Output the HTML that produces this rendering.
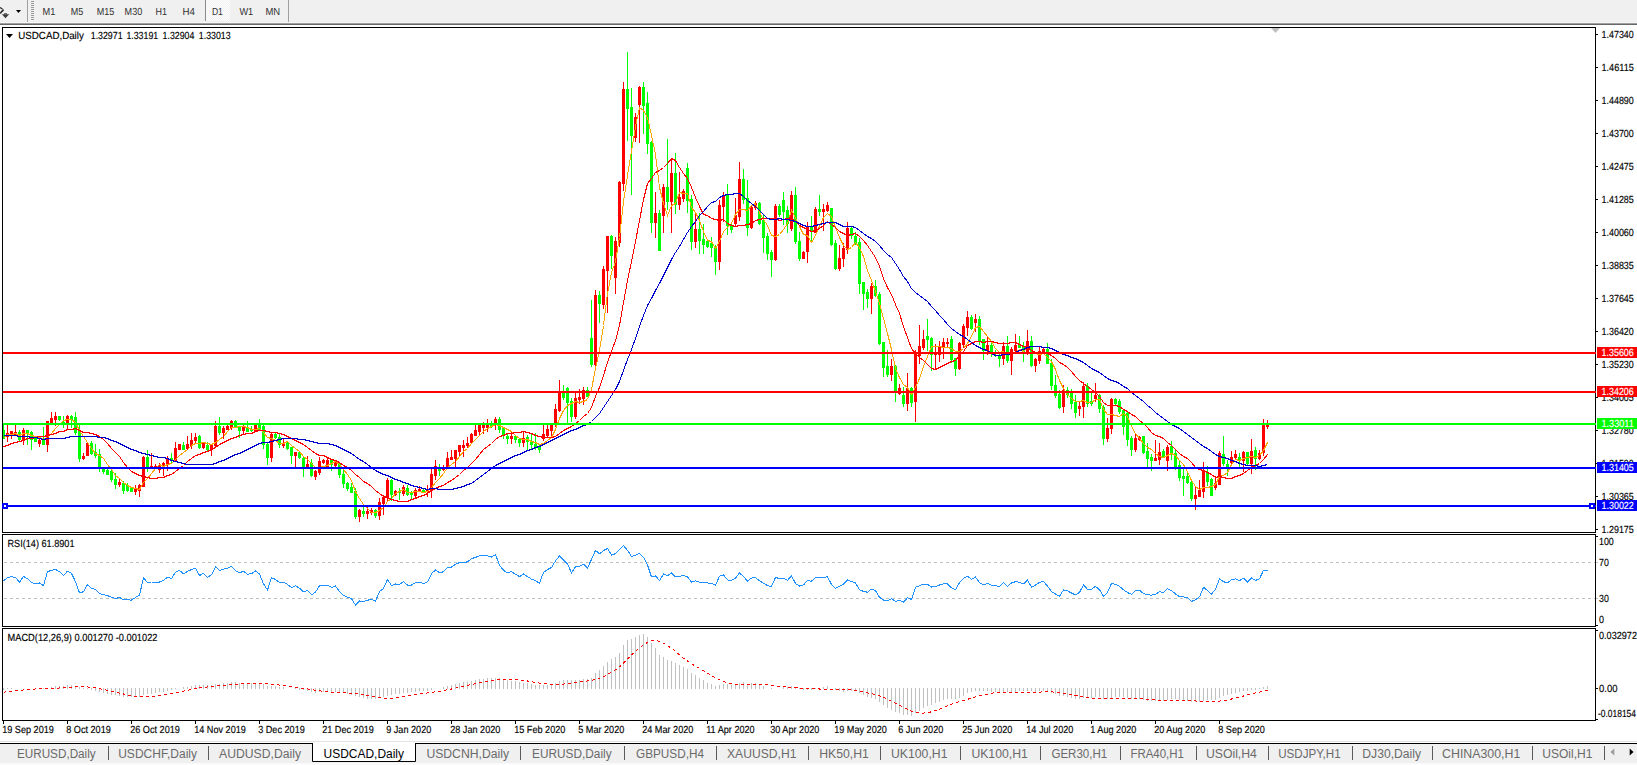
<!DOCTYPE html><html><head><meta charset="utf-8"><style>html,body{margin:0;padding:0;width:1637px;height:765px;overflow:hidden;background:#fff;font-family:"Liberation Sans",sans-serif}</style></head><body><svg width="1637" height="765" viewBox="0 0 1637 765" style="position:absolute;left:0;top:0"><rect x="0" y="0" width="1637" height="23" fill="#f0f0f0"/><rect x="0" y="22" width="1637" height="1" fill="#f7f7f7"/><rect x="0" y="23" width="1637" height="1" fill="#a0a0a0"/><rect x="0" y="24" width="1637" height="1" fill="#696969"/><rect x="27" y="0" width="1" height="22" fill="#a0a0a0"/><rect x="31" y="1" width="3" height="1" fill="#9a9a9a"/><rect x="31" y="3" width="3" height="1" fill="#9a9a9a"/><rect x="31" y="5" width="3" height="1" fill="#9a9a9a"/><rect x="31" y="7" width="3" height="1" fill="#9a9a9a"/><rect x="31" y="9" width="3" height="1" fill="#9a9a9a"/><rect x="31" y="11" width="3" height="1" fill="#9a9a9a"/><rect x="31" y="13" width="3" height="1" fill="#9a9a9a"/><rect x="31" y="15" width="3" height="1" fill="#9a9a9a"/><rect x="31" y="17" width="3" height="1" fill="#9a9a9a"/><rect x="31" y="19" width="3" height="1" fill="#9a9a9a"/><defs><pattern id="dith" x="0" y="0" width="2" height="2" patternUnits="userSpaceOnUse"><rect width="2" height="2" fill="#f0f0f0"/><rect width="1" height="1" fill="#fff"/><rect x="1" y="1" width="1" height="1" fill="#fff"/></pattern></defs><rect x="206" y="0" width="24" height="21" fill="url(#dith)" shape-rendering="crispEdges"/><rect x="205" y="0" width="1" height="21" fill="#8a8a8a"/><rect x="288" y="0" width="1" height="22" fill="#a0a0a0"/><path d="M0 7.5 L2.5 9" stroke="#2a2a2a" stroke-width="1.4" fill="none"/><path d="M3.6 9.6 L0 13.5" stroke="#2a2a2a" stroke-width="1.6" fill="none"/><path d="M1.8 14.2 L9.2 14.2 L5.5 18.2 Z" fill="#3c3c3c"/><rect x="4" y="13.3" width="3" height="1" fill="#3c3c3c"/><path d="M16 10 L21 10 L18.5 13 Z" fill="#000"/><text x="42.5" y="15" font-family="Liberation Sans, sans-serif" font-size="10.3" fill="#303030" stroke="#303030" stroke-width="0" text-rendering="geometricPrecision" textLength="12.8" lengthAdjust="spacingAndGlyphs" >M1</text><text x="70.7" y="15" font-family="Liberation Sans, sans-serif" font-size="10.3" fill="#303030" stroke="#303030" stroke-width="0" text-rendering="geometricPrecision" textLength="12.5" lengthAdjust="spacingAndGlyphs" >M5</text><text x="96.7" y="15" font-family="Liberation Sans, sans-serif" font-size="10.3" fill="#303030" stroke="#303030" stroke-width="0" text-rendering="geometricPrecision" textLength="17.5" lengthAdjust="spacingAndGlyphs" >M15</text><text x="124.6" y="15" font-family="Liberation Sans, sans-serif" font-size="10.3" fill="#303030" stroke="#303030" stroke-width="0" text-rendering="geometricPrecision" textLength="17.6" lengthAdjust="spacingAndGlyphs" >M30</text><text x="155.5" y="15" font-family="Liberation Sans, sans-serif" font-size="10.3" fill="#303030" stroke="#303030" stroke-width="0" text-rendering="geometricPrecision" textLength="11.5" lengthAdjust="spacingAndGlyphs" >H1</text><text x="182.6" y="15" font-family="Liberation Sans, sans-serif" font-size="10.3" fill="#303030" stroke="#303030" stroke-width="0" text-rendering="geometricPrecision" textLength="12.4" lengthAdjust="spacingAndGlyphs" >H4</text><text x="211.9" y="15" font-family="Liberation Sans, sans-serif" font-size="10.3" fill="#303030" stroke="#303030" stroke-width="0" text-rendering="geometricPrecision" textLength="11.0" lengthAdjust="spacingAndGlyphs" >D1</text><text x="239.4" y="15" font-family="Liberation Sans, sans-serif" font-size="10.3" fill="#303030" stroke="#303030" stroke-width="0" text-rendering="geometricPrecision" textLength="13.8" lengthAdjust="spacingAndGlyphs" >W1</text><text x="265.5" y="15" font-family="Liberation Sans, sans-serif" font-size="10.3" fill="#303030" stroke="#303030" stroke-width="0" text-rendering="geometricPrecision" textLength="14.7" lengthAdjust="spacingAndGlyphs" >MN</text><rect x="2.5" y="27.5" width="1593" height="505" fill="#fff" stroke="#000" stroke-width="1" shape-rendering="crispEdges"/><rect x="2.5" y="534.5" width="1593" height="92" fill="#fff" stroke="#000" stroke-width="1" shape-rendering="crispEdges"/><rect x="2.5" y="628.5" width="1593" height="92" fill="#fff" stroke="#000" stroke-width="1" shape-rendering="crispEdges"/><defs><clipPath id="cm"><rect x="3" y="28" width="1592" height="504"/></clipPath><clipPath id="cr"><rect x="3" y="535" width="1592" height="91"/></clipPath><clipPath id="cd"><rect x="3" y="629" width="1592" height="91"/></clipPath></defs><g clip-path="url(#cm)" shape-rendering="crispEdges"><rect x="3" y="425" width="1" height="14" fill="#00ff00"/><rect x="2" y="430" width="3" height="9" fill="#00ff00"/><rect x="7" y="425" width="1" height="17" fill="#ff0000"/><rect x="6" y="433" width="3" height="4" fill="#ff0000"/><rect x="11" y="431" width="1" height="8" fill="#ff0000"/><rect x="10" y="431" width="3" height="3" fill="#ff0000"/><rect x="15" y="425" width="1" height="11" fill="#ff0000"/><rect x="14" y="432" width="3" height="3" fill="#ff0000"/><rect x="19" y="430" width="1" height="12" fill="#00ff00"/><rect x="18" y="432" width="3" height="8" fill="#00ff00"/><rect x="23" y="428" width="1" height="17" fill="#ff0000"/><rect x="22" y="430" width="3" height="10" fill="#ff0000"/><rect x="27" y="430" width="1" height="15" fill="#00ff00"/><rect x="26" y="430" width="3" height="4" fill="#00ff00"/><rect x="31" y="431" width="1" height="19" fill="#00ff00"/><rect x="30" y="432" width="3" height="8" fill="#00ff00"/><rect x="35" y="436" width="1" height="6" fill="#00ff00"/><rect x="34" y="438" width="3" height="4" fill="#00ff00"/><rect x="39" y="438" width="1" height="9" fill="#ff0000"/><rect x="38" y="440" width="3" height="4" fill="#ff0000"/><rect x="43" y="427" width="1" height="18" fill="#00ff00"/><rect x="42" y="440" width="3" height="5" fill="#00ff00"/><rect x="47" y="421" width="1" height="31" fill="#ff0000"/><rect x="46" y="421" width="3" height="24" fill="#ff0000"/><rect x="51" y="412" width="1" height="11" fill="#ff0000"/><rect x="50" y="418" width="3" height="5" fill="#ff0000"/><rect x="55" y="412" width="1" height="14" fill="#ff0000"/><rect x="54" y="416" width="3" height="4" fill="#ff0000"/><rect x="59" y="416" width="1" height="5" fill="#00ff00"/><rect x="58" y="416" width="3" height="4" fill="#00ff00"/><rect x="63" y="416" width="1" height="12" fill="#00ff00"/><rect x="62" y="422" width="3" height="3" fill="#00ff00"/><rect x="67" y="415" width="1" height="15" fill="#ff0000"/><rect x="66" y="416" width="3" height="8" fill="#ff0000"/><rect x="71" y="415" width="1" height="13" fill="#00ff00"/><rect x="70" y="416" width="3" height="4" fill="#00ff00"/><rect x="75" y="412" width="1" height="23" fill="#00ff00"/><rect x="74" y="417" width="3" height="16" fill="#00ff00"/><rect x="79" y="425" width="1" height="37" fill="#00ff00"/><rect x="78" y="430" width="3" height="29" fill="#00ff00"/><rect x="83" y="453" width="1" height="7" fill="#ff0000"/><rect x="82" y="456" width="3" height="3" fill="#ff0000"/><rect x="87" y="443" width="1" height="13" fill="#ff0000"/><rect x="86" y="443" width="3" height="13" fill="#ff0000"/><rect x="91" y="441" width="1" height="14" fill="#00ff00"/><rect x="90" y="443" width="3" height="11" fill="#00ff00"/><rect x="95" y="444" width="1" height="14" fill="#00ff00"/><rect x="94" y="452" width="3" height="4" fill="#00ff00"/><rect x="99" y="449" width="1" height="23" fill="#00ff00"/><rect x="98" y="454" width="3" height="15" fill="#00ff00"/><rect x="103" y="468" width="1" height="6" fill="#00ff00"/><rect x="102" y="468" width="3" height="4" fill="#00ff00"/><rect x="107" y="469" width="1" height="6" fill="#00ff00"/><rect x="106" y="470" width="3" height="5" fill="#00ff00"/><rect x="111" y="470" width="1" height="12" fill="#00ff00"/><rect x="110" y="471" width="3" height="9" fill="#00ff00"/><rect x="115" y="473" width="1" height="16" fill="#00ff00"/><rect x="114" y="479" width="3" height="6" fill="#00ff00"/><rect x="119" y="478" width="1" height="9" fill="#ff0000"/><rect x="118" y="482" width="3" height="3" fill="#ff0000"/><rect x="123" y="481" width="1" height="13" fill="#00ff00"/><rect x="122" y="483" width="3" height="8" fill="#00ff00"/><rect x="127" y="483" width="1" height="9" fill="#00ff00"/><rect x="126" y="485" width="3" height="6" fill="#00ff00"/><rect x="131" y="487" width="1" height="5" fill="#00ff00"/><rect x="130" y="488" width="3" height="4" fill="#00ff00"/><rect x="135" y="485" width="1" height="10" fill="#ff0000"/><rect x="134" y="488" width="3" height="4" fill="#ff0000"/><rect x="139" y="484" width="1" height="13" fill="#ff0000"/><rect x="138" y="485" width="3" height="6" fill="#ff0000"/><rect x="143" y="456" width="1" height="31" fill="#ff0000"/><rect x="142" y="457" width="3" height="30" fill="#ff0000"/><rect x="147" y="450" width="1" height="22" fill="#00ff00"/><rect x="146" y="457" width="3" height="11" fill="#00ff00"/><rect x="151" y="453" width="1" height="16" fill="#ff0000"/><rect x="150" y="466" width="3" height="3" fill="#ff0000"/><rect x="155" y="464" width="1" height="5" fill="#ff0000"/><rect x="154" y="466" width="3" height="3" fill="#ff0000"/><rect x="159" y="463" width="1" height="10" fill="#ff0000"/><rect x="158" y="466" width="3" height="4" fill="#ff0000"/><rect x="163" y="462" width="1" height="14" fill="#ff0000"/><rect x="162" y="463" width="3" height="5" fill="#ff0000"/><rect x="167" y="456" width="1" height="15" fill="#ff0000"/><rect x="166" y="458" width="3" height="7" fill="#ff0000"/><rect x="171" y="453" width="1" height="10" fill="#00ff00"/><rect x="170" y="458" width="3" height="3" fill="#00ff00"/><rect x="175" y="442" width="1" height="20" fill="#ff0000"/><rect x="174" y="448" width="3" height="13" fill="#ff0000"/><rect x="179" y="444" width="1" height="6" fill="#ff0000"/><rect x="178" y="444" width="3" height="6" fill="#ff0000"/><rect x="183" y="442" width="1" height="8" fill="#00ff00"/><rect x="182" y="445" width="3" height="5" fill="#00ff00"/><rect x="187" y="436" width="1" height="14" fill="#ff0000"/><rect x="186" y="444" width="3" height="5" fill="#ff0000"/><rect x="191" y="433" width="1" height="16" fill="#ff0000"/><rect x="190" y="440" width="3" height="6" fill="#ff0000"/><rect x="195" y="433" width="1" height="11" fill="#ff0000"/><rect x="194" y="437" width="3" height="4" fill="#ff0000"/><rect x="199" y="435" width="1" height="14" fill="#00ff00"/><rect x="198" y="436" width="3" height="12" fill="#00ff00"/><rect x="203" y="442" width="1" height="7" fill="#ff0000"/><rect x="202" y="443" width="3" height="5" fill="#ff0000"/><rect x="207" y="442" width="1" height="9" fill="#00ff00"/><rect x="206" y="445" width="3" height="5" fill="#00ff00"/><rect x="211" y="444" width="1" height="12" fill="#ff0000"/><rect x="210" y="444" width="3" height="6" fill="#ff0000"/><rect x="215" y="421" width="1" height="27" fill="#ff0000"/><rect x="214" y="426" width="3" height="20" fill="#ff0000"/><rect x="219" y="417" width="1" height="18" fill="#00ff00"/><rect x="218" y="426" width="3" height="7" fill="#00ff00"/><rect x="223" y="426" width="1" height="13" fill="#ff0000"/><rect x="222" y="428" width="3" height="5" fill="#ff0000"/><rect x="227" y="425" width="1" height="5" fill="#ff0000"/><rect x="226" y="426" width="3" height="4" fill="#ff0000"/><rect x="231" y="420" width="1" height="10" fill="#ff0000"/><rect x="230" y="421" width="3" height="7" fill="#ff0000"/><rect x="235" y="420" width="1" height="8" fill="#00ff00"/><rect x="234" y="421" width="3" height="7" fill="#00ff00"/><rect x="239" y="426" width="1" height="12" fill="#00ff00"/><rect x="238" y="427" width="3" height="4" fill="#00ff00"/><rect x="243" y="425" width="1" height="9" fill="#ff0000"/><rect x="242" y="427" width="3" height="4" fill="#ff0000"/><rect x="247" y="421" width="1" height="11" fill="#00ff00"/><rect x="246" y="427" width="3" height="5" fill="#00ff00"/><rect x="251" y="426" width="1" height="6" fill="#00ff00"/><rect x="250" y="429" width="3" height="2" fill="#00ff00"/><rect x="255" y="425" width="1" height="7" fill="#ff0000"/><rect x="254" y="425" width="3" height="7" fill="#ff0000"/><rect x="259" y="419" width="1" height="11" fill="#00ff00"/><rect x="258" y="425" width="3" height="5" fill="#00ff00"/><rect x="263" y="425" width="1" height="24" fill="#00ff00"/><rect x="262" y="426" width="3" height="19" fill="#00ff00"/><rect x="267" y="442" width="1" height="23" fill="#00ff00"/><rect x="266" y="444" width="3" height="14" fill="#00ff00"/><rect x="271" y="433" width="1" height="29" fill="#ff0000"/><rect x="270" y="434" width="3" height="24" fill="#ff0000"/><rect x="275" y="433" width="1" height="6" fill="#00ff00"/><rect x="274" y="434" width="3" height="4" fill="#00ff00"/><rect x="279" y="434" width="1" height="14" fill="#00ff00"/><rect x="278" y="437" width="3" height="8" fill="#00ff00"/><rect x="283" y="439" width="1" height="9" fill="#ff0000"/><rect x="282" y="443" width="3" height="3" fill="#ff0000"/><rect x="287" y="441" width="1" height="9" fill="#00ff00"/><rect x="286" y="442" width="3" height="7" fill="#00ff00"/><rect x="291" y="447" width="1" height="17" fill="#00ff00"/><rect x="290" y="447" width="3" height="9" fill="#00ff00"/><rect x="295" y="452" width="1" height="15" fill="#ff0000"/><rect x="294" y="452" width="3" height="4" fill="#ff0000"/><rect x="299" y="452" width="1" height="7" fill="#00ff00"/><rect x="298" y="452" width="3" height="6" fill="#00ff00"/><rect x="303" y="456" width="1" height="21" fill="#00ff00"/><rect x="302" y="458" width="3" height="9" fill="#00ff00"/><rect x="307" y="456" width="1" height="12" fill="#ff0000"/><rect x="306" y="464" width="3" height="3" fill="#ff0000"/><rect x="311" y="459" width="1" height="18" fill="#00ff00"/><rect x="310" y="463" width="3" height="13" fill="#00ff00"/><rect x="315" y="470" width="1" height="10" fill="#ff0000"/><rect x="314" y="471" width="3" height="6" fill="#ff0000"/><rect x="319" y="457" width="1" height="18" fill="#ff0000"/><rect x="318" y="461" width="3" height="12" fill="#ff0000"/><rect x="323" y="459" width="1" height="5" fill="#ff0000"/><rect x="322" y="460" width="3" height="3" fill="#ff0000"/><rect x="327" y="458" width="1" height="10" fill="#ff0000"/><rect x="326" y="460" width="3" height="7" fill="#ff0000"/><rect x="331" y="459" width="1" height="12" fill="#00ff00"/><rect x="330" y="460" width="3" height="5" fill="#00ff00"/><rect x="335" y="461" width="1" height="6" fill="#ff0000"/><rect x="334" y="462" width="3" height="4" fill="#ff0000"/><rect x="339" y="463" width="1" height="15" fill="#00ff00"/><rect x="338" y="464" width="3" height="11" fill="#00ff00"/><rect x="343" y="470" width="1" height="18" fill="#00ff00"/><rect x="342" y="474" width="3" height="10" fill="#00ff00"/><rect x="347" y="482" width="1" height="9" fill="#00ff00"/><rect x="346" y="483" width="3" height="6" fill="#00ff00"/><rect x="351" y="483" width="1" height="10" fill="#00ff00"/><rect x="350" y="487" width="3" height="6" fill="#00ff00"/><rect x="355" y="488" width="1" height="31" fill="#00ff00"/><rect x="354" y="491" width="3" height="26" fill="#00ff00"/><rect x="359" y="509" width="1" height="13" fill="#ff0000"/><rect x="358" y="510" width="3" height="7" fill="#ff0000"/><rect x="363" y="504" width="1" height="13" fill="#00ff00"/><rect x="362" y="511" width="3" height="3" fill="#00ff00"/><rect x="367" y="507" width="1" height="12" fill="#ff0000"/><rect x="366" y="511" width="3" height="3" fill="#ff0000"/><rect x="371" y="508" width="1" height="7" fill="#ff0000"/><rect x="370" y="510" width="3" height="3" fill="#ff0000"/><rect x="375" y="509" width="1" height="9" fill="#00ff00"/><rect x="374" y="510" width="3" height="6" fill="#00ff00"/><rect x="379" y="498" width="1" height="22" fill="#ff0000"/><rect x="378" y="502" width="3" height="14" fill="#ff0000"/><rect x="383" y="495" width="1" height="20" fill="#ff0000"/><rect x="382" y="497" width="3" height="7" fill="#ff0000"/><rect x="387" y="478" width="1" height="24" fill="#ff0000"/><rect x="386" y="480" width="3" height="18" fill="#ff0000"/><rect x="391" y="479" width="1" height="22" fill="#00ff00"/><rect x="390" y="480" width="3" height="15" fill="#00ff00"/><rect x="395" y="490" width="1" height="6" fill="#ff0000"/><rect x="394" y="491" width="3" height="4" fill="#ff0000"/><rect x="399" y="488" width="1" height="12" fill="#00ff00"/><rect x="398" y="491" width="3" height="2" fill="#00ff00"/><rect x="403" y="485" width="1" height="11" fill="#ff0000"/><rect x="402" y="487" width="3" height="7" fill="#ff0000"/><rect x="407" y="485" width="1" height="11" fill="#00ff00"/><rect x="406" y="488" width="3" height="7" fill="#00ff00"/><rect x="411" y="491" width="1" height="9" fill="#00ff00"/><rect x="410" y="493" width="3" height="2" fill="#00ff00"/><rect x="415" y="488" width="1" height="10" fill="#ff0000"/><rect x="414" y="490" width="3" height="6" fill="#ff0000"/><rect x="419" y="486" width="1" height="6" fill="#ff0000"/><rect x="418" y="489" width="3" height="3" fill="#ff0000"/><rect x="423" y="488" width="1" height="5" fill="#00ff00"/><rect x="422" y="490" width="3" height="3" fill="#00ff00"/><rect x="427" y="485" width="1" height="12" fill="#ff0000"/><rect x="426" y="489" width="3" height="3" fill="#ff0000"/><rect x="431" y="469" width="1" height="29" fill="#ff0000"/><rect x="430" y="474" width="3" height="17" fill="#ff0000"/><rect x="435" y="460" width="1" height="20" fill="#ff0000"/><rect x="434" y="466" width="3" height="10" fill="#ff0000"/><rect x="439" y="464" width="1" height="12" fill="#00ff00"/><rect x="438" y="468" width="3" height="3" fill="#00ff00"/><rect x="443" y="465" width="1" height="6" fill="#ff0000"/><rect x="442" y="468" width="3" height="2" fill="#ff0000"/><rect x="447" y="452" width="1" height="17" fill="#ff0000"/><rect x="446" y="458" width="3" height="10" fill="#ff0000"/><rect x="451" y="450" width="1" height="10" fill="#ff0000"/><rect x="450" y="457" width="3" height="3" fill="#ff0000"/><rect x="455" y="450" width="1" height="17" fill="#ff0000"/><rect x="454" y="450" width="3" height="9" fill="#ff0000"/><rect x="459" y="445" width="1" height="11" fill="#ff0000"/><rect x="458" y="445" width="3" height="7" fill="#ff0000"/><rect x="463" y="440" width="1" height="17" fill="#ff0000"/><rect x="462" y="445" width="3" height="3" fill="#ff0000"/><rect x="467" y="437" width="1" height="11" fill="#ff0000"/><rect x="466" y="443" width="3" height="3" fill="#ff0000"/><rect x="471" y="433" width="1" height="10" fill="#ff0000"/><rect x="470" y="434" width="3" height="9" fill="#ff0000"/><rect x="475" y="425" width="1" height="11" fill="#ff0000"/><rect x="474" y="430" width="3" height="6" fill="#ff0000"/><rect x="479" y="425" width="1" height="11" fill="#ff0000"/><rect x="478" y="425" width="3" height="7" fill="#ff0000"/><rect x="483" y="422" width="1" height="12" fill="#ff0000"/><rect x="482" y="425" width="3" height="3" fill="#ff0000"/><rect x="487" y="419" width="1" height="13" fill="#ff0000"/><rect x="486" y="425" width="3" height="3" fill="#ff0000"/><rect x="491" y="421" width="1" height="7" fill="#00ff00"/><rect x="490" y="424" width="3" height="3" fill="#00ff00"/><rect x="495" y="417" width="1" height="13" fill="#ff0000"/><rect x="494" y="419" width="3" height="5" fill="#ff0000"/><rect x="499" y="417" width="1" height="16" fill="#00ff00"/><rect x="498" y="419" width="3" height="11" fill="#00ff00"/><rect x="503" y="428" width="1" height="11" fill="#00ff00"/><rect x="502" y="428" width="3" height="8" fill="#00ff00"/><rect x="507" y="434" width="1" height="10" fill="#00ff00"/><rect x="506" y="436" width="3" height="3" fill="#00ff00"/><rect x="511" y="432" width="1" height="12" fill="#ff0000"/><rect x="510" y="436" width="3" height="3" fill="#ff0000"/><rect x="515" y="436" width="1" height="7" fill="#00ff00"/><rect x="514" y="436" width="3" height="4" fill="#00ff00"/><rect x="519" y="438" width="1" height="9" fill="#00ff00"/><rect x="518" y="439" width="3" height="4" fill="#00ff00"/><rect x="523" y="431" width="1" height="16" fill="#ff0000"/><rect x="522" y="438" width="3" height="5" fill="#ff0000"/><rect x="527" y="435" width="1" height="15" fill="#00ff00"/><rect x="526" y="437" width="3" height="5" fill="#00ff00"/><rect x="531" y="434" width="1" height="16" fill="#00ff00"/><rect x="530" y="441" width="3" height="4" fill="#00ff00"/><rect x="535" y="433" width="1" height="17" fill="#00ff00"/><rect x="534" y="444" width="3" height="3" fill="#00ff00"/><rect x="539" y="445" width="1" height="8" fill="#00ff00"/><rect x="538" y="446" width="3" height="4" fill="#00ff00"/><rect x="543" y="425" width="1" height="16" fill="#ff0000"/><rect x="542" y="434" width="3" height="5" fill="#ff0000"/><rect x="547" y="425" width="1" height="12" fill="#ff0000"/><rect x="546" y="429" width="3" height="7" fill="#ff0000"/><rect x="551" y="425" width="1" height="11" fill="#ff0000"/><rect x="550" y="425" width="3" height="6" fill="#ff0000"/><rect x="555" y="404" width="1" height="23" fill="#ff0000"/><rect x="554" y="409" width="3" height="15" fill="#ff0000"/><rect x="559" y="380" width="1" height="32" fill="#ff0000"/><rect x="558" y="392" width="3" height="19" fill="#ff0000"/><rect x="563" y="385" width="1" height="15" fill="#00ff00"/><rect x="562" y="392" width="3" height="6" fill="#00ff00"/><rect x="567" y="387" width="1" height="36" fill="#00ff00"/><rect x="566" y="388" width="3" height="15" fill="#00ff00"/><rect x="571" y="398" width="1" height="24" fill="#00ff00"/><rect x="570" y="401" width="3" height="16" fill="#00ff00"/><rect x="575" y="392" width="1" height="27" fill="#ff0000"/><rect x="574" y="398" width="3" height="19" fill="#ff0000"/><rect x="579" y="389" width="1" height="15" fill="#ff0000"/><rect x="578" y="397" width="3" height="3" fill="#ff0000"/><rect x="583" y="387" width="1" height="18" fill="#ff0000"/><rect x="582" y="390" width="3" height="9" fill="#ff0000"/><rect x="587" y="387" width="1" height="10" fill="#00ff00"/><rect x="586" y="390" width="3" height="7" fill="#00ff00"/><rect x="591" y="300" width="1" height="67" fill="#00ff00"/><rect x="590" y="338" width="3" height="27" fill="#00ff00"/><rect x="595" y="290" width="1" height="77" fill="#ff0000"/><rect x="594" y="295" width="3" height="70" fill="#ff0000"/><rect x="599" y="291" width="1" height="32" fill="#00ff00"/><rect x="598" y="295" width="3" height="9" fill="#00ff00"/><rect x="603" y="266" width="1" height="43" fill="#ff0000"/><rect x="602" y="269" width="3" height="36" fill="#ff0000"/><rect x="607" y="236" width="1" height="77" fill="#ff0000"/><rect x="606" y="236" width="3" height="35" fill="#ff0000"/><rect x="611" y="235" width="1" height="34" fill="#00ff00"/><rect x="610" y="236" width="3" height="20" fill="#00ff00"/><rect x="615" y="237" width="1" height="57" fill="#ff0000"/><rect x="614" y="241" width="3" height="37" fill="#ff0000"/><rect x="619" y="181" width="1" height="66" fill="#ff0000"/><rect x="618" y="182" width="3" height="61" fill="#ff0000"/><rect x="623" y="82" width="1" height="109" fill="#ff0000"/><rect x="622" y="89" width="3" height="95" fill="#ff0000"/><rect x="627" y="52" width="1" height="89" fill="#00ff00"/><rect x="626" y="89" width="3" height="20" fill="#00ff00"/><rect x="631" y="88" width="1" height="107" fill="#00ff00"/><rect x="630" y="107" width="3" height="29" fill="#00ff00"/><rect x="635" y="113" width="1" height="29" fill="#ff0000"/><rect x="634" y="117" width="3" height="21" fill="#ff0000"/><rect x="639" y="86" width="1" height="57" fill="#ff0000"/><rect x="638" y="87" width="3" height="18" fill="#ff0000"/><rect x="643" y="82" width="1" height="52" fill="#00ff00"/><rect x="642" y="87" width="3" height="19" fill="#00ff00"/><rect x="647" y="92" width="1" height="62" fill="#00ff00"/><rect x="646" y="103" width="3" height="41" fill="#00ff00"/><rect x="651" y="141" width="1" height="92" fill="#00ff00"/><rect x="650" y="142" width="3" height="81" fill="#00ff00"/><rect x="655" y="192" width="1" height="46" fill="#ff0000"/><rect x="654" y="213" width="3" height="10" fill="#ff0000"/><rect x="659" y="210" width="1" height="41" fill="#00ff00"/><rect x="658" y="213" width="3" height="38" fill="#00ff00"/><rect x="663" y="184" width="1" height="49" fill="#ff0000"/><rect x="662" y="187" width="3" height="29" fill="#ff0000"/><rect x="667" y="139" width="1" height="71" fill="#00ff00"/><rect x="666" y="187" width="3" height="15" fill="#00ff00"/><rect x="671" y="158" width="1" height="75" fill="#ff0000"/><rect x="670" y="173" width="3" height="29" fill="#ff0000"/><rect x="675" y="153" width="1" height="61" fill="#00ff00"/><rect x="674" y="173" width="3" height="32" fill="#00ff00"/><rect x="679" y="172" width="1" height="38" fill="#ff0000"/><rect x="678" y="197" width="3" height="8" fill="#ff0000"/><rect x="683" y="189" width="1" height="13" fill="#ff0000"/><rect x="682" y="191" width="3" height="8" fill="#ff0000"/><rect x="687" y="163" width="1" height="50" fill="#00ff00"/><rect x="686" y="168" width="3" height="33" fill="#00ff00"/><rect x="691" y="195" width="1" height="55" fill="#00ff00"/><rect x="690" y="199" width="3" height="43" fill="#00ff00"/><rect x="695" y="214" width="1" height="34" fill="#ff0000"/><rect x="694" y="229" width="3" height="13" fill="#ff0000"/><rect x="699" y="213" width="1" height="41" fill="#00ff00"/><rect x="698" y="229" width="3" height="12" fill="#00ff00"/><rect x="703" y="224" width="1" height="30" fill="#00ff00"/><rect x="702" y="239" width="3" height="6" fill="#00ff00"/><rect x="707" y="241" width="1" height="7" fill="#00ff00"/><rect x="706" y="241" width="3" height="6" fill="#00ff00"/><rect x="711" y="237" width="1" height="20" fill="#00ff00"/><rect x="710" y="243" width="3" height="5" fill="#00ff00"/><rect x="715" y="245" width="1" height="30" fill="#00ff00"/><rect x="714" y="247" width="3" height="15" fill="#00ff00"/><rect x="719" y="200" width="1" height="70" fill="#ff0000"/><rect x="718" y="205" width="3" height="57" fill="#ff0000"/><rect x="723" y="192" width="1" height="30" fill="#ff0000"/><rect x="722" y="195" width="3" height="12" fill="#ff0000"/><rect x="727" y="184" width="1" height="51" fill="#00ff00"/><rect x="726" y="194" width="3" height="32" fill="#00ff00"/><rect x="731" y="224" width="1" height="9" fill="#00ff00"/><rect x="730" y="225" width="3" height="5" fill="#00ff00"/><rect x="735" y="198" width="1" height="29" fill="#ff0000"/><rect x="734" y="215" width="3" height="9" fill="#ff0000"/><rect x="739" y="162" width="1" height="59" fill="#ff0000"/><rect x="738" y="179" width="3" height="38" fill="#ff0000"/><rect x="743" y="169" width="1" height="35" fill="#00ff00"/><rect x="742" y="179" width="3" height="21" fill="#00ff00"/><rect x="747" y="180" width="1" height="56" fill="#00ff00"/><rect x="746" y="198" width="3" height="30" fill="#00ff00"/><rect x="751" y="205" width="1" height="24" fill="#ff0000"/><rect x="750" y="207" width="3" height="21" fill="#ff0000"/><rect x="755" y="201" width="1" height="9" fill="#ff0000"/><rect x="754" y="203" width="3" height="5" fill="#ff0000"/><rect x="759" y="202" width="1" height="23" fill="#00ff00"/><rect x="758" y="203" width="3" height="21" fill="#00ff00"/><rect x="763" y="215" width="1" height="38" fill="#00ff00"/><rect x="762" y="220" width="3" height="18" fill="#00ff00"/><rect x="767" y="233" width="1" height="27" fill="#00ff00"/><rect x="766" y="236" width="3" height="18" fill="#00ff00"/><rect x="771" y="250" width="1" height="27" fill="#00ff00"/><rect x="770" y="252" width="3" height="8" fill="#00ff00"/><rect x="775" y="204" width="1" height="57" fill="#ff0000"/><rect x="774" y="206" width="3" height="54" fill="#ff0000"/><rect x="779" y="204" width="1" height="13" fill="#00ff00"/><rect x="778" y="206" width="3" height="9" fill="#00ff00"/><rect x="783" y="192" width="1" height="33" fill="#00ff00"/><rect x="782" y="200" width="3" height="12" fill="#00ff00"/><rect x="787" y="206" width="1" height="27" fill="#00ff00"/><rect x="786" y="210" width="3" height="14" fill="#00ff00"/><rect x="791" y="191" width="1" height="40" fill="#ff0000"/><rect x="790" y="195" width="3" height="34" fill="#ff0000"/><rect x="795" y="187" width="1" height="57" fill="#00ff00"/><rect x="794" y="195" width="3" height="47" fill="#00ff00"/><rect x="799" y="232" width="1" height="29" fill="#00ff00"/><rect x="798" y="241" width="3" height="18" fill="#00ff00"/><rect x="803" y="251" width="1" height="8" fill="#ff0000"/><rect x="802" y="252" width="3" height="7" fill="#ff0000"/><rect x="807" y="222" width="1" height="41" fill="#ff0000"/><rect x="806" y="227" width="3" height="25" fill="#ff0000"/><rect x="811" y="216" width="1" height="26" fill="#00ff00"/><rect x="810" y="227" width="3" height="5" fill="#00ff00"/><rect x="815" y="207" width="1" height="26" fill="#ff0000"/><rect x="814" y="209" width="3" height="24" fill="#ff0000"/><rect x="819" y="195" width="1" height="21" fill="#00ff00"/><rect x="818" y="209" width="3" height="3" fill="#00ff00"/><rect x="823" y="204" width="1" height="27" fill="#ff0000"/><rect x="822" y="209" width="3" height="3" fill="#ff0000"/><rect x="827" y="202" width="1" height="10" fill="#ff0000"/><rect x="826" y="205" width="3" height="6" fill="#ff0000"/><rect x="831" y="208" width="1" height="38" fill="#00ff00"/><rect x="830" y="208" width="3" height="37" fill="#00ff00"/><rect x="835" y="240" width="1" height="30" fill="#00ff00"/><rect x="834" y="243" width="3" height="26" fill="#00ff00"/><rect x="839" y="245" width="1" height="26" fill="#ff0000"/><rect x="838" y="258" width="3" height="11" fill="#ff0000"/><rect x="843" y="243" width="1" height="24" fill="#ff0000"/><rect x="842" y="248" width="3" height="11" fill="#ff0000"/><rect x="847" y="222" width="1" height="32" fill="#ff0000"/><rect x="846" y="228" width="3" height="22" fill="#ff0000"/><rect x="851" y="227" width="1" height="12" fill="#00ff00"/><rect x="850" y="228" width="3" height="8" fill="#00ff00"/><rect x="855" y="232" width="1" height="13" fill="#00ff00"/><rect x="854" y="236" width="3" height="7" fill="#00ff00"/><rect x="859" y="238" width="1" height="56" fill="#00ff00"/><rect x="858" y="242" width="3" height="42" fill="#00ff00"/><rect x="863" y="282" width="1" height="28" fill="#00ff00"/><rect x="862" y="282" width="3" height="12" fill="#00ff00"/><rect x="867" y="289" width="1" height="19" fill="#00ff00"/><rect x="866" y="292" width="3" height="7" fill="#00ff00"/><rect x="871" y="283" width="1" height="31" fill="#ff0000"/><rect x="870" y="286" width="3" height="13" fill="#ff0000"/><rect x="875" y="280" width="1" height="17" fill="#00ff00"/><rect x="874" y="286" width="3" height="10" fill="#00ff00"/><rect x="879" y="292" width="1" height="53" fill="#00ff00"/><rect x="878" y="294" width="3" height="50" fill="#00ff00"/><rect x="883" y="342" width="1" height="35" fill="#00ff00"/><rect x="882" y="342" width="3" height="26" fill="#00ff00"/><rect x="887" y="350" width="1" height="27" fill="#00ff00"/><rect x="886" y="366" width="3" height="9" fill="#00ff00"/><rect x="891" y="359" width="1" height="22" fill="#ff0000"/><rect x="890" y="366" width="3" height="9" fill="#ff0000"/><rect x="895" y="365" width="1" height="37" fill="#00ff00"/><rect x="894" y="366" width="3" height="26" fill="#00ff00"/><rect x="899" y="384" width="1" height="11" fill="#ff0000"/><rect x="898" y="388" width="3" height="6" fill="#ff0000"/><rect x="903" y="387" width="1" height="20" fill="#00ff00"/><rect x="902" y="395" width="3" height="9" fill="#00ff00"/><rect x="907" y="373" width="1" height="38" fill="#ff0000"/><rect x="906" y="388" width="3" height="16" fill="#ff0000"/><rect x="911" y="387" width="1" height="20" fill="#00ff00"/><rect x="910" y="388" width="3" height="15" fill="#00ff00"/><rect x="915" y="350" width="1" height="72" fill="#ff0000"/><rect x="914" y="353" width="3" height="49" fill="#ff0000"/><rect x="919" y="325" width="1" height="39" fill="#ff0000"/><rect x="918" y="346" width="3" height="10" fill="#ff0000"/><rect x="923" y="330" width="1" height="20" fill="#ff0000"/><rect x="922" y="339" width="3" height="9" fill="#ff0000"/><rect x="927" y="319" width="1" height="32" fill="#00ff00"/><rect x="926" y="336" width="3" height="4" fill="#00ff00"/><rect x="931" y="337" width="1" height="34" fill="#00ff00"/><rect x="930" y="338" width="3" height="17" fill="#00ff00"/><rect x="935" y="344" width="1" height="25" fill="#ff0000"/><rect x="934" y="352" width="3" height="3" fill="#ff0000"/><rect x="939" y="341" width="1" height="21" fill="#ff0000"/><rect x="938" y="346" width="3" height="9" fill="#ff0000"/><rect x="943" y="338" width="1" height="21" fill="#ff0000"/><rect x="942" y="342" width="3" height="5" fill="#ff0000"/><rect x="947" y="338" width="1" height="10" fill="#ff0000"/><rect x="946" y="342" width="3" height="2" fill="#ff0000"/><rect x="951" y="336" width="1" height="27" fill="#00ff00"/><rect x="950" y="339" width="3" height="21" fill="#00ff00"/><rect x="955" y="358" width="1" height="18" fill="#00ff00"/><rect x="954" y="358" width="3" height="11" fill="#00ff00"/><rect x="959" y="342" width="1" height="28" fill="#ff0000"/><rect x="958" y="343" width="3" height="26" fill="#ff0000"/><rect x="963" y="324" width="1" height="24" fill="#ff0000"/><rect x="962" y="326" width="3" height="19" fill="#ff0000"/><rect x="967" y="311" width="1" height="25" fill="#ff0000"/><rect x="966" y="317" width="3" height="11" fill="#ff0000"/><rect x="971" y="315" width="1" height="15" fill="#00ff00"/><rect x="970" y="317" width="3" height="12" fill="#00ff00"/><rect x="975" y="314" width="1" height="18" fill="#ff0000"/><rect x="974" y="319" width="3" height="4" fill="#ff0000"/><rect x="979" y="316" width="1" height="29" fill="#00ff00"/><rect x="978" y="319" width="3" height="22" fill="#00ff00"/><rect x="983" y="339" width="1" height="21" fill="#00ff00"/><rect x="982" y="339" width="3" height="12" fill="#00ff00"/><rect x="987" y="337" width="1" height="18" fill="#ff0000"/><rect x="986" y="345" width="3" height="6" fill="#ff0000"/><rect x="991" y="343" width="1" height="14" fill="#00ff00"/><rect x="990" y="345" width="3" height="9" fill="#00ff00"/><rect x="995" y="350" width="1" height="7" fill="#00ff00"/><rect x="994" y="352" width="3" height="2" fill="#00ff00"/><rect x="999" y="354" width="1" height="13" fill="#00ff00"/><rect x="998" y="355" width="3" height="4" fill="#00ff00"/><rect x="1003" y="342" width="1" height="23" fill="#ff0000"/><rect x="1002" y="346" width="3" height="13" fill="#ff0000"/><rect x="1007" y="336" width="1" height="27" fill="#00ff00"/><rect x="1006" y="346" width="3" height="15" fill="#00ff00"/><rect x="1011" y="347" width="1" height="28" fill="#ff0000"/><rect x="1010" y="349" width="3" height="12" fill="#ff0000"/><rect x="1015" y="334" width="1" height="18" fill="#ff0000"/><rect x="1014" y="345" width="3" height="6" fill="#ff0000"/><rect x="1019" y="336" width="1" height="12" fill="#00ff00"/><rect x="1018" y="345" width="3" height="3" fill="#00ff00"/><rect x="1023" y="342" width="1" height="20" fill="#00ff00"/><rect x="1022" y="347" width="3" height="6" fill="#00ff00"/><rect x="1027" y="330" width="1" height="25" fill="#ff0000"/><rect x="1026" y="341" width="3" height="12" fill="#ff0000"/><rect x="1031" y="336" width="1" height="31" fill="#00ff00"/><rect x="1030" y="341" width="3" height="25" fill="#00ff00"/><rect x="1035" y="358" width="1" height="14" fill="#ff0000"/><rect x="1034" y="359" width="3" height="7" fill="#ff0000"/><rect x="1039" y="347" width="1" height="17" fill="#ff0000"/><rect x="1038" y="351" width="3" height="10" fill="#ff0000"/><rect x="1043" y="348" width="1" height="6" fill="#ff0000"/><rect x="1042" y="349" width="3" height="4" fill="#ff0000"/><rect x="1047" y="343" width="1" height="21" fill="#00ff00"/><rect x="1046" y="349" width="3" height="15" fill="#00ff00"/><rect x="1051" y="359" width="1" height="31" fill="#00ff00"/><rect x="1050" y="363" width="3" height="23" fill="#00ff00"/><rect x="1055" y="375" width="1" height="23" fill="#00ff00"/><rect x="1054" y="385" width="3" height="11" fill="#00ff00"/><rect x="1059" y="390" width="1" height="19" fill="#00ff00"/><rect x="1058" y="394" width="3" height="14" fill="#00ff00"/><rect x="1063" y="385" width="1" height="28" fill="#ff0000"/><rect x="1062" y="390" width="3" height="17" fill="#ff0000"/><rect x="1067" y="387" width="1" height="11" fill="#00ff00"/><rect x="1066" y="390" width="3" height="5" fill="#00ff00"/><rect x="1071" y="389" width="1" height="20" fill="#00ff00"/><rect x="1070" y="393" width="3" height="11" fill="#00ff00"/><rect x="1075" y="395" width="1" height="23" fill="#00ff00"/><rect x="1074" y="402" width="3" height="11" fill="#00ff00"/><rect x="1079" y="401" width="1" height="15" fill="#ff0000"/><rect x="1078" y="406" width="3" height="3" fill="#ff0000"/><rect x="1083" y="382" width="1" height="36" fill="#ff0000"/><rect x="1082" y="386" width="3" height="21" fill="#ff0000"/><rect x="1087" y="383" width="1" height="24" fill="#00ff00"/><rect x="1086" y="386" width="3" height="18" fill="#00ff00"/><rect x="1091" y="393" width="1" height="13" fill="#00ff00"/><rect x="1090" y="401" width="3" height="3" fill="#00ff00"/><rect x="1095" y="383" width="1" height="19" fill="#ff0000"/><rect x="1094" y="395" width="3" height="4" fill="#ff0000"/><rect x="1099" y="394" width="1" height="19" fill="#00ff00"/><rect x="1098" y="395" width="3" height="14" fill="#00ff00"/><rect x="1103" y="405" width="1" height="40" fill="#00ff00"/><rect x="1102" y="407" width="3" height="32" fill="#00ff00"/><rect x="1107" y="418" width="1" height="24" fill="#ff0000"/><rect x="1106" y="428" width="3" height="11" fill="#ff0000"/><rect x="1111" y="398" width="1" height="36" fill="#ff0000"/><rect x="1110" y="399" width="3" height="30" fill="#ff0000"/><rect x="1115" y="398" width="1" height="7" fill="#00ff00"/><rect x="1114" y="399" width="3" height="5" fill="#00ff00"/><rect x="1119" y="399" width="1" height="15" fill="#00ff00"/><rect x="1118" y="401" width="3" height="11" fill="#00ff00"/><rect x="1123" y="409" width="1" height="26" fill="#00ff00"/><rect x="1122" y="410" width="3" height="17" fill="#00ff00"/><rect x="1127" y="412" width="1" height="34" fill="#00ff00"/><rect x="1126" y="413" width="3" height="27" fill="#00ff00"/><rect x="1131" y="436" width="1" height="20" fill="#00ff00"/><rect x="1130" y="438" width="3" height="12" fill="#00ff00"/><rect x="1135" y="433" width="1" height="19" fill="#ff0000"/><rect x="1134" y="438" width="3" height="12" fill="#ff0000"/><rect x="1139" y="436" width="1" height="5" fill="#ff0000"/><rect x="1138" y="437" width="3" height="3" fill="#ff0000"/><rect x="1143" y="436" width="1" height="18" fill="#00ff00"/><rect x="1142" y="436" width="3" height="17" fill="#00ff00"/><rect x="1147" y="443" width="1" height="24" fill="#00ff00"/><rect x="1146" y="451" width="3" height="8" fill="#00ff00"/><rect x="1151" y="454" width="1" height="17" fill="#00ff00"/><rect x="1150" y="457" width="3" height="4" fill="#00ff00"/><rect x="1155" y="440" width="1" height="21" fill="#ff0000"/><rect x="1154" y="458" width="3" height="3" fill="#ff0000"/><rect x="1159" y="443" width="1" height="22" fill="#ff0000"/><rect x="1158" y="452" width="3" height="8" fill="#ff0000"/><rect x="1163" y="449" width="1" height="9" fill="#00ff00"/><rect x="1162" y="451" width="3" height="6" fill="#00ff00"/><rect x="1167" y="445" width="1" height="26" fill="#ff0000"/><rect x="1166" y="447" width="3" height="14" fill="#ff0000"/><rect x="1171" y="441" width="1" height="19" fill="#00ff00"/><rect x="1170" y="446" width="3" height="8" fill="#00ff00"/><rect x="1175" y="449" width="1" height="21" fill="#00ff00"/><rect x="1174" y="453" width="3" height="14" fill="#00ff00"/><rect x="1179" y="461" width="1" height="20" fill="#00ff00"/><rect x="1178" y="465" width="3" height="13" fill="#00ff00"/><rect x="1183" y="468" width="1" height="28" fill="#00ff00"/><rect x="1182" y="476" width="3" height="3" fill="#00ff00"/><rect x="1187" y="473" width="1" height="11" fill="#00ff00"/><rect x="1186" y="476" width="3" height="7" fill="#00ff00"/><rect x="1191" y="481" width="1" height="20" fill="#00ff00"/><rect x="1190" y="482" width="3" height="17" fill="#00ff00"/><rect x="1195" y="486" width="1" height="24" fill="#ff0000"/><rect x="1194" y="495" width="3" height="4" fill="#ff0000"/><rect x="1199" y="480" width="1" height="17" fill="#ff0000"/><rect x="1198" y="490" width="3" height="7" fill="#ff0000"/><rect x="1203" y="462" width="1" height="36" fill="#ff0000"/><rect x="1202" y="470" width="3" height="22" fill="#ff0000"/><rect x="1207" y="466" width="1" height="20" fill="#00ff00"/><rect x="1206" y="472" width="3" height="10" fill="#00ff00"/><rect x="1211" y="478" width="1" height="18" fill="#00ff00"/><rect x="1210" y="479" width="3" height="17" fill="#00ff00"/><rect x="1215" y="476" width="1" height="14" fill="#ff0000"/><rect x="1214" y="483" width="3" height="5" fill="#ff0000"/><rect x="1219" y="451" width="1" height="34" fill="#ff0000"/><rect x="1218" y="453" width="3" height="32" fill="#ff0000"/><rect x="1223" y="436" width="1" height="30" fill="#00ff00"/><rect x="1222" y="454" width="3" height="10" fill="#00ff00"/><rect x="1227" y="460" width="1" height="16" fill="#00ff00"/><rect x="1226" y="464" width="3" height="3" fill="#00ff00"/><rect x="1231" y="451" width="1" height="15" fill="#ff0000"/><rect x="1230" y="457" width="3" height="6" fill="#ff0000"/><rect x="1235" y="450" width="1" height="10" fill="#ff0000"/><rect x="1234" y="454" width="3" height="4" fill="#ff0000"/><rect x="1239" y="453" width="1" height="14" fill="#00ff00"/><rect x="1238" y="457" width="3" height="3" fill="#00ff00"/><rect x="1243" y="451" width="1" height="21" fill="#ff0000"/><rect x="1242" y="452" width="3" height="9" fill="#ff0000"/><rect x="1247" y="452" width="1" height="13" fill="#00ff00"/><rect x="1246" y="452" width="3" height="12" fill="#00ff00"/><rect x="1251" y="439" width="1" height="35" fill="#ff0000"/><rect x="1250" y="451" width="3" height="13" fill="#ff0000"/><rect x="1255" y="447" width="1" height="23" fill="#00ff00"/><rect x="1254" y="450" width="3" height="9" fill="#00ff00"/><rect x="1259" y="450" width="1" height="10" fill="#ff0000"/><rect x="1258" y="453" width="3" height="6" fill="#ff0000"/><rect x="1263" y="419" width="1" height="37" fill="#ff0000"/><rect x="1262" y="424" width="3" height="29" fill="#ff0000"/><rect x="1267" y="420" width="1" height="9" fill="#ff0000"/><rect x="1266" y="424" width="3" height="3" fill="#ff0000"/></g><g clip-path="url(#cm)"><polyline points="3.5,438.5 7.5,434.5 11.5,434.5 15.5,433.5 19.5,435.5 23.5,433.5 27.5,433.5 31.5,435.5 35.5,436.5 39.5,437.5 43.5,439.5 47.5,437.5 51.5,433.5 55.5,428.5 59.5,424.5 63.5,420.5 67.5,419.5 71.5,419.5 75.5,422.5 79.5,430.5 83.5,436.5 87.5,442.5 91.5,448.5 95.5,453.5 99.5,455.5 103.5,458.5 107.5,464.5 111.5,469.5 115.5,475.5 119.5,478.5 123.5,482.5 127.5,485.5 131.5,487.5 135.5,488.5 139.5,489.5 143.5,482.5 147.5,478.5 151.5,473.5 155.5,468.5 159.5,464.5 163.5,466.5 167.5,464.5 171.5,463.5 175.5,459.5 179.5,455.5 183.5,452.5 187.5,449.5 191.5,445.5 195.5,443.5 199.5,443.5 203.5,442.5 207.5,443.5 211.5,444.5 215.5,442.5 219.5,439.5 223.5,436.5 227.5,431.5 231.5,427.5 235.5,427.5 239.5,426.5 243.5,426.5 247.5,427.5 251.5,429.5 255.5,429.5 259.5,428.5 263.5,432.5 267.5,437.5 271.5,438.5 275.5,440.5 279.5,443.5 283.5,443.5 287.5,441.5 291.5,445.5 295.5,448.5 299.5,451.5 303.5,456.5 307.5,459.5 311.5,463.5 315.5,467.5 319.5,467.5 323.5,466.5 327.5,465.5 331.5,463.5 335.5,461.5 339.5,464.5 343.5,469.5 347.5,474.5 351.5,480.5 355.5,491.5 359.5,498.5 363.5,504.5 367.5,508.5 371.5,512.5 375.5,512.5 379.5,510.5 383.5,507.5 387.5,501.5 391.5,498.5 395.5,493.5 399.5,491.5 403.5,489.5 407.5,492.5 411.5,492.5 415.5,491.5 419.5,491.5 423.5,492.5 427.5,491.5 431.5,487.5 435.5,482.5 439.5,478.5 443.5,473.5 447.5,467.5 451.5,464.5 455.5,461.5 459.5,456.5 463.5,451.5 467.5,448.5 471.5,443.5 475.5,439.5 479.5,435.5 483.5,431.5 487.5,428.5 491.5,426.5 495.5,424.5 499.5,425.5 503.5,427.5 507.5,429.5 511.5,431.5 515.5,435.5 519.5,438.5 523.5,439.5 527.5,439.5 531.5,441.5 535.5,442.5 539.5,444.5 543.5,443.5 547.5,440.5 551.5,437.5 555.5,429.5 559.5,418.5 563.5,410.5 567.5,405.5 571.5,403.5 575.5,401.5 579.5,402.5 583.5,401.5 587.5,399.5 591.5,389.5 595.5,368.5 599.5,350.5 603.5,325.5 607.5,293.5 611.5,272.5 615.5,261.5 619.5,237.5 623.5,201.5 627.5,175.5 631.5,151.5 635.5,126.5 639.5,107.5 643.5,110.5 647.5,117.5 651.5,135.5 655.5,154.5 659.5,187.5 663.5,203.5 667.5,215.5 671.5,205.5 675.5,203.5 679.5,192.5 683.5,193.5 687.5,193.5 691.5,207.5 695.5,212.5 699.5,220.5 703.5,231.5 707.5,240.5 711.5,241.5 715.5,248.5 719.5,241.5 723.5,231.5 727.5,227.5 731.5,223.5 735.5,214.5 739.5,209.5 743.5,209.5 747.5,210.5 751.5,205.5 755.5,203.5 759.5,212.5 763.5,219.5 767.5,225.5 771.5,235.5 775.5,236.5 779.5,234.5 783.5,229.5 787.5,223.5 791.5,210.5 795.5,217.5 799.5,226.5 803.5,234.5 807.5,235.5 811.5,242.5 815.5,235.5 819.5,226.5 823.5,217.5 827.5,213.5 831.5,216.5 835.5,227.5 839.5,237.5 843.5,245.5 847.5,249.5 851.5,247.5 855.5,242.5 859.5,247.5 863.5,256.5 867.5,270.5 871.5,280.5 875.5,291.5 879.5,303.5 883.5,318.5 887.5,333.5 891.5,349.5 895.5,368.5 899.5,377.5 903.5,384.5 907.5,387.5 911.5,394.5 915.5,387.5 919.5,378.5 923.5,366.5 927.5,356.5 931.5,346.5 935.5,346.5 939.5,346.5 943.5,347.5 947.5,347.5 951.5,348.5 955.5,351.5 959.5,351.5 963.5,348.5 967.5,343.5 971.5,336.5 975.5,327.5 979.5,326.5 983.5,331.5 987.5,336.5 991.5,341.5 995.5,348.5 999.5,352.5 1003.5,351.5 1007.5,354.5 1011.5,353.5 1015.5,352.5 1019.5,349.5 1023.5,351.5 1027.5,347.5 1031.5,350.5 1035.5,353.5 1039.5,354.5 1043.5,353.5 1047.5,357.5 1051.5,361.5 1055.5,369.5 1059.5,380.5 1063.5,388.5 1067.5,394.5 1071.5,398.5 1075.5,401.5 1079.5,401.5 1083.5,400.5 1087.5,402.5 1091.5,402.5 1095.5,399.5 1099.5,399.5 1103.5,409.5 1107.5,414.5 1111.5,414.5 1115.5,415.5 1119.5,416.5 1123.5,413.5 1127.5,416.5 1131.5,426.5 1135.5,433.5 1139.5,438.5 1143.5,443.5 1147.5,447.5 1151.5,449.5 1155.5,453.5 1159.5,456.5 1163.5,457.5 1167.5,455.5 1171.5,453.5 1175.5,455.5 1179.5,460.5 1183.5,464.5 1187.5,471.5 1191.5,480.5 1195.5,486.5 1199.5,489.5 1203.5,487.5 1207.5,487.5 1211.5,486.5 1215.5,484.5 1219.5,476.5 1223.5,475.5 1227.5,472.5 1231.5,464.5 1235.5,459.5 1239.5,460.5 1243.5,458.5 1247.5,457.5 1251.5,456.5 1255.5,457.5 1259.5,455.5 1263.5,450.5 1267.5,442.5" fill="none" stroke="#ffa500" stroke-width="1" shape-rendering="crispEdges" /><polyline points="3.5,446.5 7.5,445.5 11.5,443.5 15.5,442.5 19.5,441.5 23.5,440.5 27.5,438.5 31.5,438.5 35.5,437.5 39.5,436.5 43.5,436.5 47.5,435.5 51.5,434.5 55.5,433.5 59.5,431.5 63.5,431.5 67.5,429.5 71.5,429.5 75.5,428.5 79.5,430.5 83.5,432.5 87.5,432.5 91.5,433.5 95.5,434.5 99.5,436.5 103.5,439.5 107.5,443.5 111.5,448.5 115.5,452.5 119.5,456.5 123.5,462.5 127.5,467.5 131.5,471.5 135.5,473.5 139.5,475.5 143.5,476.5 147.5,477.5 151.5,478.5 155.5,478.5 159.5,477.5 163.5,477.5 167.5,475.5 171.5,474.5 175.5,471.5 179.5,468.5 183.5,465.5 187.5,461.5 191.5,458.5 195.5,455.5 199.5,454.5 203.5,452.5 207.5,451.5 211.5,449.5 215.5,447.5 219.5,444.5 223.5,442.5 227.5,440.5 231.5,438.5 235.5,437.5 239.5,435.5 243.5,434.5 247.5,433.5 251.5,433.5 255.5,431.5 259.5,430.5 263.5,430.5 267.5,431.5 271.5,432.5 275.5,432.5 279.5,433.5 283.5,434.5 287.5,436.5 291.5,438.5 295.5,440.5 299.5,442.5 303.5,444.5 307.5,447.5 311.5,450.5 315.5,453.5 319.5,455.5 323.5,455.5 327.5,457.5 331.5,459.5 335.5,460.5 339.5,462.5 343.5,465.5 347.5,467.5 351.5,470.5 355.5,474.5 359.5,477.5 363.5,481.5 367.5,483.5 371.5,486.5 375.5,490.5 379.5,493.5 383.5,496.5 387.5,497.5 391.5,499.5 395.5,500.5 399.5,501.5 403.5,501.5 407.5,501.5 411.5,499.5 415.5,498.5 419.5,496.5 423.5,495.5 427.5,493.5 431.5,490.5 435.5,488.5 439.5,486.5 443.5,485.5 447.5,482.5 451.5,480.5 455.5,477.5 459.5,474.5 463.5,470.5 467.5,467.5 471.5,463.5 475.5,459.5 479.5,454.5 483.5,449.5 487.5,446.5 491.5,443.5 495.5,439.5 499.5,436.5 503.5,435.5 507.5,433.5 511.5,433.5 515.5,432.5 519.5,432.5 523.5,431.5 527.5,432.5 531.5,433.5 535.5,435.5 539.5,436.5 543.5,437.5 547.5,437.5 551.5,437.5 555.5,436.5 559.5,433.5 563.5,430.5 567.5,428.5 571.5,426.5 575.5,423.5 579.5,420.5 583.5,416.5 587.5,413.5 591.5,407.5 595.5,396.5 599.5,387.5 603.5,375.5 607.5,362.5 611.5,351.5 615.5,340.5 619.5,325.5 623.5,302.5 627.5,280.5 631.5,261.5 635.5,241.5 639.5,220.5 643.5,199.5 647.5,183.5 651.5,178.5 655.5,172.5 659.5,170.5 663.5,167.5 667.5,163.5 671.5,158.5 675.5,160.5 679.5,167.5 683.5,173.5 687.5,178.5 691.5,187.5 695.5,197.5 699.5,206.5 703.5,214.5 707.5,215.5 711.5,218.5 715.5,219.5 719.5,220.5 723.5,219.5 727.5,223.5 731.5,225.5 735.5,226.5 739.5,225.5 743.5,225.5 747.5,224.5 751.5,223.5 755.5,220.5 759.5,219.5 763.5,218.5 767.5,218.5 771.5,218.5 775.5,218.5 779.5,220.5 783.5,219.5 787.5,218.5 791.5,217.5 795.5,221.5 799.5,225.5 803.5,227.5 807.5,229.5 811.5,231.5 815.5,230.5 819.5,228.5 823.5,225.5 827.5,221.5 831.5,224.5 835.5,227.5 839.5,231.5 843.5,233.5 847.5,235.5 851.5,234.5 855.5,233.5 859.5,236.5 863.5,240.5 867.5,245.5 871.5,251.5 875.5,257.5 879.5,266.5 883.5,278.5 887.5,287.5 891.5,294.5 895.5,304.5 899.5,313.5 903.5,326.5 907.5,337.5 911.5,348.5 915.5,353.5 919.5,357.5 923.5,360.5 927.5,364.5 931.5,368.5 935.5,369.5 939.5,367.5 943.5,365.5 947.5,363.5 951.5,361.5 955.5,360.5 959.5,355.5 963.5,351.5 967.5,345.5 971.5,343.5 975.5,341.5 979.5,341.5 983.5,342.5 987.5,341.5 991.5,341.5 995.5,342.5 999.5,343.5 1003.5,343.5 1007.5,343.5 1011.5,342.5 1015.5,342.5 1019.5,344.5 1023.5,346.5 1027.5,347.5 1031.5,350.5 1035.5,352.5 1039.5,352.5 1043.5,352.5 1047.5,353.5 1051.5,355.5 1055.5,358.5 1059.5,362.5 1063.5,364.5 1067.5,367.5 1071.5,371.5 1075.5,376.5 1079.5,380.5 1083.5,383.5 1087.5,386.5 1091.5,389.5 1095.5,392.5 1099.5,396.5 1103.5,402.5 1107.5,405.5 1111.5,405.5 1115.5,405.5 1119.5,406.5 1123.5,409.5 1127.5,411.5 1131.5,414.5 1135.5,416.5 1139.5,420.5 1143.5,423.5 1147.5,427.5 1151.5,432.5 1155.5,435.5 1159.5,436.5 1163.5,438.5 1167.5,442.5 1171.5,445.5 1175.5,449.5 1179.5,453.5 1183.5,456.5 1187.5,458.5 1191.5,462.5 1195.5,467.5 1199.5,469.5 1203.5,470.5 1207.5,472.5 1211.5,474.5 1215.5,477.5 1219.5,476.5 1223.5,477.5 1227.5,478.5 1231.5,478.5 1235.5,476.5 1239.5,475.5 1243.5,473.5 1247.5,470.5 1251.5,467.5 1255.5,465.5 1259.5,463.5 1263.5,459.5 1267.5,454.5" fill="none" stroke="#ff0000" stroke-width="1" shape-rendering="crispEdges" /><polyline points="3.5,435.5 7.5,435.5 11.5,435.5 15.5,435.5 19.5,436.5 23.5,436.5 27.5,436.5 31.5,437.5 35.5,437.5 39.5,438.5 43.5,439.5 47.5,438.5 51.5,438.5 55.5,438.5 59.5,438.5 63.5,438.5 67.5,437.5 71.5,436.5 75.5,436.5 79.5,436.5 83.5,436.5 87.5,436.5 91.5,436.5 95.5,436.5 99.5,437.5 103.5,437.5 107.5,438.5 111.5,440.5 115.5,441.5 119.5,443.5 123.5,445.5 127.5,447.5 131.5,449.5 135.5,450.5 139.5,452.5 143.5,453.5 147.5,454.5 151.5,455.5 155.5,456.5 159.5,457.5 163.5,457.5 167.5,458.5 171.5,460.5 175.5,461.5 179.5,462.5 183.5,463.5 187.5,464.5 191.5,464.5 195.5,464.5 199.5,464.5 203.5,464.5 207.5,464.5 211.5,464.5 215.5,463.5 219.5,461.5 223.5,460.5 227.5,458.5 231.5,456.5 235.5,454.5 239.5,453.5 243.5,451.5 247.5,449.5 251.5,447.5 255.5,445.5 259.5,443.5 263.5,442.5 267.5,442.5 271.5,441.5 275.5,440.5 279.5,439.5 283.5,438.5 287.5,438.5 291.5,438.5 295.5,438.5 299.5,439.5 303.5,439.5 307.5,440.5 311.5,441.5 315.5,442.5 319.5,443.5 323.5,443.5 327.5,443.5 331.5,444.5 335.5,445.5 339.5,447.5 343.5,449.5 347.5,451.5 351.5,453.5 355.5,456.5 359.5,459.5 363.5,461.5 367.5,464.5 371.5,467.5 375.5,470.5 379.5,472.5 383.5,474.5 387.5,475.5 391.5,477.5 395.5,479.5 399.5,480.5 403.5,482.5 407.5,483.5 411.5,485.5 415.5,486.5 419.5,487.5 423.5,488.5 427.5,489.5 431.5,488.5 435.5,488.5 439.5,489.5 443.5,489.5 447.5,489.5 451.5,489.5 455.5,488.5 459.5,487.5 463.5,486.5 467.5,484.5 471.5,483.5 475.5,480.5 479.5,477.5 483.5,474.5 487.5,471.5 491.5,468.5 495.5,465.5 499.5,463.5 503.5,461.5 507.5,459.5 511.5,457.5 515.5,455.5 519.5,454.5 523.5,452.5 527.5,450.5 531.5,449.5 535.5,447.5 539.5,446.5 543.5,444.5 547.5,442.5 551.5,440.5 555.5,438.5 559.5,436.5 563.5,434.5 567.5,432.5 571.5,430.5 575.5,429.5 579.5,427.5 583.5,425.5 587.5,424.5 591.5,421.5 595.5,417.5 599.5,413.5 603.5,407.5 607.5,401.5 611.5,395.5 615.5,389.5 619.5,381.5 623.5,370.5 627.5,359.5 631.5,349.5 635.5,338.5 639.5,326.5 643.5,315.5 647.5,305.5 651.5,298.5 655.5,290.5 659.5,283.5 663.5,275.5 667.5,267.5 671.5,259.5 675.5,252.5 679.5,246.5 683.5,239.5 687.5,232.5 691.5,226.5 695.5,221.5 699.5,215.5 703.5,211.5 707.5,206.5 711.5,202.5 715.5,201.5 719.5,197.5 723.5,195.5 727.5,194.5 731.5,194.5 735.5,193.5 739.5,193.5 743.5,196.5 747.5,200.5 751.5,203.5 755.5,206.5 759.5,210.5 763.5,214.5 767.5,218.5 771.5,219.5 775.5,219.5 779.5,218.5 783.5,219.5 787.5,219.5 791.5,220.5 795.5,221.5 799.5,223.5 803.5,225.5 807.5,226.5 811.5,226.5 815.5,225.5 819.5,224.5 823.5,223.5 827.5,222.5 831.5,222.5 835.5,222.5 839.5,224.5 843.5,226.5 847.5,226.5 851.5,226.5 855.5,227.5 859.5,230.5 863.5,233.5 867.5,236.5 871.5,238.5 875.5,241.5 879.5,245.5 883.5,250.5 887.5,254.5 891.5,257.5 895.5,263.5 899.5,269.5 903.5,276.5 907.5,281.5 911.5,288.5 915.5,292.5 919.5,295.5 923.5,298.5 927.5,301.5 931.5,306.5 935.5,310.5 939.5,315.5 943.5,319.5 947.5,324.5 951.5,328.5 955.5,331.5 959.5,334.5 963.5,336.5 967.5,339.5 971.5,342.5 975.5,345.5 979.5,347.5 983.5,349.5 987.5,350.5 991.5,353.5 995.5,355.5 999.5,355.5 1003.5,354.5 1007.5,354.5 1011.5,353.5 1015.5,352.5 1019.5,350.5 1023.5,349.5 1027.5,347.5 1031.5,346.5 1035.5,346.5 1039.5,346.5 1043.5,347.5 1047.5,347.5 1051.5,348.5 1055.5,350.5 1059.5,352.5 1063.5,354.5 1067.5,355.5 1071.5,357.5 1075.5,358.5 1079.5,360.5 1083.5,362.5 1087.5,365.5 1091.5,368.5 1095.5,370.5 1099.5,372.5 1103.5,375.5 1107.5,378.5 1111.5,380.5 1115.5,381.5 1119.5,383.5 1123.5,386.5 1127.5,388.5 1131.5,392.5 1135.5,395.5 1139.5,398.5 1143.5,401.5 1147.5,405.5 1151.5,408.5 1155.5,412.5 1159.5,415.5 1163.5,418.5 1167.5,421.5 1171.5,424.5 1175.5,426.5 1179.5,428.5 1183.5,431.5 1187.5,434.5 1191.5,437.5 1195.5,440.5 1199.5,443.5 1203.5,446.5 1207.5,448.5 1211.5,451.5 1215.5,454.5 1219.5,456.5 1223.5,457.5 1227.5,458.5 1231.5,460.5 1235.5,461.5 1239.5,463.5 1243.5,464.5 1247.5,465.5 1251.5,465.5 1255.5,465.5 1259.5,466.5 1263.5,465.5 1267.5,464.5" fill="none" stroke="#0000cd" stroke-width="1" shape-rendering="crispEdges" /></g><rect x="3" y="352" width="1593" height="2" fill="#ff0000"/><rect x="3" y="391" width="1593" height="2" fill="#ff0000"/><rect x="3" y="423" width="1593" height="2" fill="#00ff00"/><rect x="3" y="467" width="1593" height="2" fill="#0000ff"/><rect x="3" y="505" width="1593" height="2" fill="#0000ff"/><rect x="1589" y="503" width="6" height="6" fill="#0000ff"/><rect x="1591" y="505" width="2" height="2" fill="#fff"/><rect x="2" y="503" width="6" height="6" fill="#0000ff"/><rect x="4" y="505" width="2" height="2" fill="#fff"/><path d="M1271 28 L1280 28 L1275.5 33 Z" fill="#c0c0c0"/><path d="M6 34 L13 34 L9.5 38 Z" fill="#000"/><text x="18.3" y="39" font-family="Liberation Sans, sans-serif" font-size="10.3" fill="#000" stroke="#000" stroke-width="0.15" text-rendering="geometricPrecision" textLength="65.5" lengthAdjust="spacingAndGlyphs" >USDCAD,Daily</text><text x="90.75" y="39" font-family="Liberation Sans, sans-serif" font-size="10.3" fill="#000" stroke="#000" stroke-width="0.15" text-rendering="geometricPrecision" textLength="31.8" lengthAdjust="spacingAndGlyphs" >1.32971</text><text x="126.4" y="39" font-family="Liberation Sans, sans-serif" font-size="10.3" fill="#000" stroke="#000" stroke-width="0.15" text-rendering="geometricPrecision" textLength="31.8" lengthAdjust="spacingAndGlyphs" >1.33191</text><text x="162.6" y="39" font-family="Liberation Sans, sans-serif" font-size="10.3" fill="#000" stroke="#000" stroke-width="0.15" text-rendering="geometricPrecision" textLength="31.8" lengthAdjust="spacingAndGlyphs" >1.32904</text><text x="198.8" y="39" font-family="Liberation Sans, sans-serif" font-size="10.3" fill="#000" stroke="#000" stroke-width="0.15" text-rendering="geometricPrecision" textLength="31.8" lengthAdjust="spacingAndGlyphs" >1.33013</text><rect x="1596" y="34" width="2" height="1" fill="#000"/><text x="1601.5" y="38" font-family="Liberation Sans, sans-serif" font-size="10.3" fill="#000" stroke="#000" stroke-width="0.15" text-rendering="geometricPrecision" textLength="32.3" lengthAdjust="spacingAndGlyphs" >1.47340</text><rect x="1596" y="67" width="2" height="1" fill="#000"/><text x="1601.5" y="71" font-family="Liberation Sans, sans-serif" font-size="10.3" fill="#000" stroke="#000" stroke-width="0.15" text-rendering="geometricPrecision" textLength="32.3" lengthAdjust="spacingAndGlyphs" >1.46115</text><rect x="1596" y="100" width="2" height="1" fill="#000"/><text x="1601.5" y="104" font-family="Liberation Sans, sans-serif" font-size="10.3" fill="#000" stroke="#000" stroke-width="0.15" text-rendering="geometricPrecision" textLength="32.3" lengthAdjust="spacingAndGlyphs" >1.44890</text><rect x="1596" y="133" width="2" height="1" fill="#000"/><text x="1601.5" y="137" font-family="Liberation Sans, sans-serif" font-size="10.3" fill="#000" stroke="#000" stroke-width="0.15" text-rendering="geometricPrecision" textLength="32.3" lengthAdjust="spacingAndGlyphs" >1.43700</text><rect x="1596" y="166" width="2" height="1" fill="#000"/><text x="1601.5" y="170" font-family="Liberation Sans, sans-serif" font-size="10.3" fill="#000" stroke="#000" stroke-width="0.15" text-rendering="geometricPrecision" textLength="32.3" lengthAdjust="spacingAndGlyphs" >1.42475</text><rect x="1596" y="199" width="2" height="1" fill="#000"/><text x="1601.5" y="203" font-family="Liberation Sans, sans-serif" font-size="10.3" fill="#000" stroke="#000" stroke-width="0.15" text-rendering="geometricPrecision" textLength="32.3" lengthAdjust="spacingAndGlyphs" >1.41285</text><rect x="1596" y="232" width="2" height="1" fill="#000"/><text x="1601.5" y="236" font-family="Liberation Sans, sans-serif" font-size="10.3" fill="#000" stroke="#000" stroke-width="0.15" text-rendering="geometricPrecision" textLength="32.3" lengthAdjust="spacingAndGlyphs" >1.40060</text><rect x="1596" y="265" width="2" height="1" fill="#000"/><text x="1601.5" y="269" font-family="Liberation Sans, sans-serif" font-size="10.3" fill="#000" stroke="#000" stroke-width="0.15" text-rendering="geometricPrecision" textLength="32.3" lengthAdjust="spacingAndGlyphs" >1.38835</text><rect x="1596" y="298" width="2" height="1" fill="#000"/><text x="1601.5" y="302" font-family="Liberation Sans, sans-serif" font-size="10.3" fill="#000" stroke="#000" stroke-width="0.15" text-rendering="geometricPrecision" textLength="32.3" lengthAdjust="spacingAndGlyphs" >1.37645</text><rect x="1596" y="331" width="2" height="1" fill="#000"/><text x="1601.5" y="335" font-family="Liberation Sans, sans-serif" font-size="10.3" fill="#000" stroke="#000" stroke-width="0.15" text-rendering="geometricPrecision" textLength="32.3" lengthAdjust="spacingAndGlyphs" >1.36420</text><rect x="1596" y="364" width="2" height="1" fill="#000"/><text x="1601.5" y="368" font-family="Liberation Sans, sans-serif" font-size="10.3" fill="#000" stroke="#000" stroke-width="0.15" text-rendering="geometricPrecision" textLength="32.3" lengthAdjust="spacingAndGlyphs" >1.35230</text><rect x="1596" y="397" width="2" height="1" fill="#000"/><text x="1601.5" y="401" font-family="Liberation Sans, sans-serif" font-size="10.3" fill="#000" stroke="#000" stroke-width="0.15" text-rendering="geometricPrecision" textLength="32.3" lengthAdjust="spacingAndGlyphs" >1.34005</text><rect x="1596" y="430" width="2" height="1" fill="#000"/><text x="1601.5" y="434" font-family="Liberation Sans, sans-serif" font-size="10.3" fill="#000" stroke="#000" stroke-width="0.15" text-rendering="geometricPrecision" textLength="32.3" lengthAdjust="spacingAndGlyphs" >1.32780</text><rect x="1596" y="463" width="2" height="1" fill="#000"/><text x="1601.5" y="467" font-family="Liberation Sans, sans-serif" font-size="10.3" fill="#000" stroke="#000" stroke-width="0.15" text-rendering="geometricPrecision" textLength="32.3" lengthAdjust="spacingAndGlyphs" >1.31590</text><rect x="1596" y="496" width="2" height="1" fill="#000"/><text x="1601.5" y="500" font-family="Liberation Sans, sans-serif" font-size="10.3" fill="#000" stroke="#000" stroke-width="0.15" text-rendering="geometricPrecision" textLength="32.3" lengthAdjust="spacingAndGlyphs" >1.30365</text><rect x="1596" y="529" width="2" height="1" fill="#000"/><text x="1601.5" y="533" font-family="Liberation Sans, sans-serif" font-size="10.3" fill="#000" stroke="#000" stroke-width="0.15" text-rendering="geometricPrecision" textLength="32.3" lengthAdjust="spacingAndGlyphs" >1.29175</text><rect x="1597" y="347" width="40" height="11" fill="#ff0000"/><text x="1601.5" y="356" font-family="Liberation Sans, sans-serif" font-size="10.3" fill="#fff" stroke="#fff" stroke-width="0.15" text-rendering="geometricPrecision" textLength="32.3" lengthAdjust="spacingAndGlyphs" >1.35606</text><rect x="1597" y="386" width="40" height="11" fill="#ff0000"/><text x="1601.5" y="395" font-family="Liberation Sans, sans-serif" font-size="10.3" fill="#fff" stroke="#fff" stroke-width="0.15" text-rendering="geometricPrecision" textLength="32.3" lengthAdjust="spacingAndGlyphs" >1.34206</text><rect x="1597" y="418" width="40" height="11" fill="#00ff00"/><text x="1601.5" y="427" font-family="Liberation Sans, sans-serif" font-size="10.3" fill="#fff" stroke="#fff" stroke-width="0.15" text-rendering="geometricPrecision" textLength="32.3" lengthAdjust="spacingAndGlyphs" >1.33011</text><rect x="1597" y="462" width="40" height="11" fill="#0000ff"/><text x="1601.5" y="471" font-family="Liberation Sans, sans-serif" font-size="10.3" fill="#fff" stroke="#fff" stroke-width="0.15" text-rendering="geometricPrecision" textLength="32.3" lengthAdjust="spacingAndGlyphs" >1.31405</text><rect x="1597" y="500" width="40" height="11" fill="#0000ff"/><text x="1601.5" y="509" font-family="Liberation Sans, sans-serif" font-size="10.3" fill="#fff" stroke="#fff" stroke-width="0.15" text-rendering="geometricPrecision" textLength="32.3" lengthAdjust="spacingAndGlyphs" >1.30022</text><line x1="4" y1="562.5" x2="1595" y2="562.5" stroke="#c0c0c0" stroke-width="1" stroke-dasharray="3,3" shape-rendering="crispEdges"/><rect x="1596" y="562" width="2" height="1" fill="#c0c0c0"/><line x1="4" y1="598.5" x2="1595" y2="598.5" stroke="#c0c0c0" stroke-width="1" stroke-dasharray="3,3" shape-rendering="crispEdges"/><rect x="1596" y="598" width="2" height="1" fill="#c0c0c0"/><g clip-path="url(#cr)"><polyline points="3.5,580.9 7.5,577.8 11.5,576.7 15.5,577.4 19.5,582.2 23.5,576.5 27.5,578.6 31.5,582.5 35.5,583.7 39.5,583.0 43.5,585.6 47.5,571.7 51.5,570.3 55.5,569.4 59.5,571.7 63.5,575.4 67.5,571.2 71.5,573.4 75.5,581.7 79.5,592.9 83.5,591.7 87.5,584.6 91.5,588.5 95.5,589.2 99.5,593.7 103.5,594.6 107.5,595.6 111.5,597.2 115.5,598.7 119.5,597.3 123.5,599.8 127.5,599.8 131.5,600.1 135.5,597.5 139.5,595.0 143.5,577.7 147.5,582.5 151.5,582.0 155.5,582.0 159.5,582.0 163.5,580.2 167.5,577.3 171.5,578.6 175.5,572.2 179.5,570.3 183.5,573.9 187.5,571.4 191.5,569.5 195.5,568.1 199.5,575.5 203.5,573.4 207.5,577.4 211.5,574.7 215.5,566.8 219.5,570.7 223.5,569.1 227.5,568.3 231.5,566.3 235.5,570.6 239.5,572.7 243.5,571.3 247.5,574.2 251.5,573.6 255.5,570.9 259.5,574.1 263.5,583.8 267.5,590.0 271.5,577.9 275.5,579.4 279.5,582.6 283.5,582.1 287.5,584.5 291.5,587.6 295.5,585.8 299.5,588.1 303.5,591.9 307.5,590.5 311.5,594.8 315.5,592.1 319.5,585.9 323.5,585.3 327.5,585.3 331.5,587.4 335.5,586.0 339.5,591.8 343.5,595.4 347.5,597.2 351.5,598.6 355.5,605.1 359.5,600.9 363.5,601.6 367.5,600.2 371.5,599.4 375.5,601.0 379.5,591.5 383.5,588.4 387.5,579.4 391.5,585.4 395.5,584.0 399.5,584.4 403.5,581.8 407.5,585.0 411.5,585.0 415.5,582.7 419.5,582.1 423.5,583.8 427.5,581.9 431.5,573.6 435.5,570.1 439.5,572.7 443.5,571.8 447.5,567.5 451.5,567.1 455.5,564.4 459.5,562.6 463.5,562.6 467.5,561.8 471.5,558.6 475.5,557.4 479.5,555.9 483.5,555.9 487.5,555.9 491.5,557.1 495.5,554.6 499.5,565.1 503.5,570.3 507.5,572.8 511.5,571.6 515.5,574.2 519.5,576.7 523.5,574.0 527.5,576.6 531.5,579.1 535.5,580.8 539.5,583.2 543.5,572.4 547.5,569.6 551.5,567.5 555.5,560.9 559.5,556.0 563.5,560.0 567.5,563.8 571.5,573.0 575.5,566.6 579.5,566.3 583.5,564.1 587.5,567.9 591.5,559.4 595.5,550.4 599.5,553.8 603.5,550.6 607.5,548.4 611.5,555.0 615.5,553.7 619.5,549.6 623.5,545.7 627.5,550.3 631.5,556.4 635.5,555.2 639.5,553.5 643.5,557.4 647.5,564.9 651.5,576.9 655.5,575.9 659.5,580.6 663.5,573.9 667.5,575.7 671.5,572.9 675.5,576.9 679.5,576.2 683.5,575.5 687.5,576.8 691.5,582.3 695.5,580.7 699.5,582.2 703.5,582.7 707.5,583.0 711.5,583.1 715.5,585.3 719.5,576.2 723.5,574.9 727.5,579.9 731.5,580.5 735.5,578.2 739.5,573.0 743.5,576.6 747.5,581.1 751.5,578.1 755.5,577.5 759.5,580.9 763.5,583.2 767.5,585.6 771.5,586.6 775.5,577.3 779.5,578.7 783.5,578.2 787.5,580.4 791.5,575.7 795.5,583.5 799.5,586.0 803.5,584.9 807.5,580.5 811.5,581.2 815.5,577.4 819.5,577.8 823.5,577.4 827.5,576.7 831.5,584.4 835.5,588.4 839.5,586.2 843.5,584.0 847.5,580.0 851.5,581.4 855.5,582.8 859.5,589.9 863.5,591.4 867.5,592.2 871.5,589.1 875.5,590.6 879.5,597.4 883.5,600.1 887.5,600.8 891.5,598.6 895.5,601.4 899.5,600.5 903.5,602.1 907.5,597.7 911.5,599.4 915.5,587.2 919.5,585.7 923.5,584.2 927.5,584.2 931.5,587.1 935.5,586.6 939.5,585.0 943.5,583.9 947.5,583.9 951.5,587.9 955.5,589.9 959.5,582.6 963.5,578.3 967.5,576.2 971.5,579.2 975.5,577.0 979.5,582.5 983.5,584.8 987.5,583.4 991.5,585.4 995.5,585.4 999.5,586.7 1003.5,582.7 1007.5,586.5 1011.5,582.9 1015.5,581.7 1019.5,582.3 1023.5,583.9 1027.5,580.0 1031.5,587.2 1035.5,585.1 1039.5,582.3 1043.5,581.6 1047.5,586.0 1051.5,591.8 1055.5,594.0 1059.5,596.5 1063.5,589.9 1067.5,590.9 1071.5,593.0 1075.5,594.9 1079.5,592.4 1083.5,585.0 1087.5,589.3 1091.5,589.3 1095.5,586.4 1099.5,589.8 1103.5,596.2 1107.5,592.5 1111.5,583.5 1115.5,584.4 1119.5,586.4 1123.5,589.8 1127.5,592.5 1131.5,594.4 1135.5,590.6 1139.5,590.2 1143.5,593.5 1147.5,594.7 1151.5,595.2 1155.5,594.3 1159.5,591.7 1163.5,592.7 1167.5,588.7 1171.5,590.5 1175.5,594.0 1179.5,596.6 1183.5,596.9 1187.5,597.8 1191.5,601.4 1195.5,599.7 1199.5,596.9 1203.5,587.3 1207.5,590.6 1211.5,594.2 1215.5,589.1 1219.5,578.8 1223.5,581.8 1227.5,582.7 1231.5,579.8 1235.5,578.9 1239.5,580.6 1243.5,578.2 1247.5,582.1 1251.5,578.0 1255.5,580.5 1259.5,578.7 1263.5,570.3 1267.5,570.3" fill="none" stroke="#1e90ff" stroke-width="1" shape-rendering="crispEdges" /></g><text x="7.5" y="547" font-family="Liberation Sans, sans-serif" font-size="10.3" fill="#000" stroke="#000" stroke-width="0.15" text-rendering="geometricPrecision" textLength="67" lengthAdjust="spacingAndGlyphs" >RSI(14) 61.8901</text><text x="1599" y="545" font-family="Liberation Sans, sans-serif" font-size="10.3" fill="#000" stroke="#000" stroke-width="0.15" text-rendering="geometricPrecision" textLength="14.8" lengthAdjust="spacingAndGlyphs" >100</text><text x="1599" y="566" font-family="Liberation Sans, sans-serif" font-size="10.3" fill="#000" stroke="#000" stroke-width="0.15" text-rendering="geometricPrecision" textLength="9.8" lengthAdjust="spacingAndGlyphs" >70</text><text x="1599" y="602" font-family="Liberation Sans, sans-serif" font-size="10.3" fill="#000" stroke="#000" stroke-width="0.15" text-rendering="geometricPrecision" textLength="9.8" lengthAdjust="spacingAndGlyphs" >30</text><text x="1599" y="623" font-family="Liberation Sans, sans-serif" font-size="10.3" fill="#000" stroke="#000" stroke-width="0.15" text-rendering="geometricPrecision" textLength="5" lengthAdjust="spacingAndGlyphs" >0</text><rect x="1596" y="536" width="2" height="1" fill="#000"/><rect x="1596" y="625" width="2" height="1" fill="#000"/><g clip-path="url(#cd)" shape-rendering="crispEdges"><rect x="3" y="688" width="1" height="2" fill="#c0c0c0"/><rect x="7" y="688" width="1" height="1" fill="#c0c0c0"/><rect x="11" y="688" width="1" height="1" fill="#c0c0c0"/><rect x="43" y="688" width="1" height="1" fill="#c0c0c0"/><rect x="51" y="687" width="1" height="2" fill="#c0c0c0"/><rect x="55" y="686" width="1" height="3" fill="#c0c0c0"/><rect x="59" y="686" width="1" height="3" fill="#c0c0c0"/><rect x="63" y="686" width="1" height="3" fill="#c0c0c0"/><rect x="67" y="685" width="1" height="4" fill="#c0c0c0"/><rect x="71" y="685" width="1" height="4" fill="#c0c0c0"/><rect x="75" y="686" width="1" height="3" fill="#c0c0c0"/><rect x="79" y="687" width="1" height="2" fill="#c0c0c0"/><rect x="83" y="688" width="1" height="1" fill="#c0c0c0"/><rect x="87" y="688" width="1" height="1" fill="#c0c0c0"/><rect x="91" y="688" width="1" height="2" fill="#c0c0c0"/><rect x="95" y="688" width="1" height="3" fill="#c0c0c0"/><rect x="99" y="688" width="1" height="4" fill="#c0c0c0"/><rect x="103" y="688" width="1" height="5" fill="#c0c0c0"/><rect x="107" y="688" width="1" height="6" fill="#c0c0c0"/><rect x="111" y="688" width="1" height="7" fill="#c0c0c0"/><rect x="115" y="688" width="1" height="7" fill="#c0c0c0"/><rect x="119" y="688" width="1" height="8" fill="#c0c0c0"/><rect x="123" y="688" width="1" height="9" fill="#c0c0c0"/><rect x="127" y="688" width="1" height="9" fill="#c0c0c0"/><rect x="131" y="688" width="1" height="9" fill="#c0c0c0"/><rect x="135" y="688" width="1" height="9" fill="#c0c0c0"/><rect x="139" y="688" width="1" height="9" fill="#c0c0c0"/><rect x="143" y="688" width="1" height="7" fill="#c0c0c0"/><rect x="147" y="688" width="1" height="6" fill="#c0c0c0"/><rect x="151" y="688" width="1" height="6" fill="#c0c0c0"/><rect x="155" y="688" width="1" height="5" fill="#c0c0c0"/><rect x="159" y="688" width="1" height="4" fill="#c0c0c0"/><rect x="163" y="688" width="1" height="4" fill="#c0c0c0"/><rect x="167" y="688" width="1" height="3" fill="#c0c0c0"/><rect x="171" y="688" width="1" height="2" fill="#c0c0c0"/><rect x="175" y="688" width="1" height="1" fill="#c0c0c0"/><rect x="183" y="687" width="1" height="2" fill="#c0c0c0"/><rect x="187" y="687" width="1" height="2" fill="#c0c0c0"/><rect x="191" y="686" width="1" height="3" fill="#c0c0c0"/><rect x="195" y="685" width="1" height="4" fill="#c0c0c0"/><rect x="199" y="685" width="1" height="4" fill="#c0c0c0"/><rect x="203" y="685" width="1" height="4" fill="#c0c0c0"/><rect x="207" y="685" width="1" height="4" fill="#c0c0c0"/><rect x="211" y="685" width="1" height="4" fill="#c0c0c0"/><rect x="215" y="684" width="1" height="5" fill="#c0c0c0"/><rect x="219" y="684" width="1" height="5" fill="#c0c0c0"/><rect x="223" y="683" width="1" height="6" fill="#c0c0c0"/><rect x="227" y="683" width="1" height="6" fill="#c0c0c0"/><rect x="231" y="682" width="1" height="7" fill="#c0c0c0"/><rect x="235" y="682" width="1" height="7" fill="#c0c0c0"/><rect x="239" y="683" width="1" height="6" fill="#c0c0c0"/><rect x="243" y="683" width="1" height="6" fill="#c0c0c0"/><rect x="247" y="683" width="1" height="6" fill="#c0c0c0"/><rect x="251" y="683" width="1" height="6" fill="#c0c0c0"/><rect x="255" y="683" width="1" height="6" fill="#c0c0c0"/><rect x="259" y="683" width="1" height="6" fill="#c0c0c0"/><rect x="263" y="684" width="1" height="5" fill="#c0c0c0"/><rect x="267" y="686" width="1" height="3" fill="#c0c0c0"/><rect x="271" y="686" width="1" height="3" fill="#c0c0c0"/><rect x="275" y="686" width="1" height="3" fill="#c0c0c0"/><rect x="279" y="687" width="1" height="2" fill="#c0c0c0"/><rect x="283" y="687" width="1" height="2" fill="#c0c0c0"/><rect x="295" y="688" width="1" height="1" fill="#c0c0c0"/><rect x="299" y="688" width="1" height="2" fill="#c0c0c0"/><rect x="303" y="688" width="1" height="2" fill="#c0c0c0"/><rect x="307" y="688" width="1" height="3" fill="#c0c0c0"/><rect x="311" y="688" width="1" height="4" fill="#c0c0c0"/><rect x="315" y="688" width="1" height="5" fill="#c0c0c0"/><rect x="319" y="688" width="1" height="4" fill="#c0c0c0"/><rect x="323" y="688" width="1" height="4" fill="#c0c0c0"/><rect x="327" y="688" width="1" height="4" fill="#c0c0c0"/><rect x="331" y="688" width="1" height="4" fill="#c0c0c0"/><rect x="335" y="688" width="1" height="4" fill="#c0c0c0"/><rect x="339" y="688" width="1" height="4" fill="#c0c0c0"/><rect x="343" y="688" width="1" height="5" fill="#c0c0c0"/><rect x="347" y="688" width="1" height="6" fill="#c0c0c0"/><rect x="351" y="688" width="1" height="7" fill="#c0c0c0"/><rect x="355" y="688" width="1" height="8" fill="#c0c0c0"/><rect x="359" y="688" width="1" height="9" fill="#c0c0c0"/><rect x="363" y="688" width="1" height="10" fill="#c0c0c0"/><rect x="367" y="688" width="1" height="11" fill="#c0c0c0"/><rect x="371" y="688" width="1" height="11" fill="#c0c0c0"/><rect x="375" y="688" width="1" height="11" fill="#c0c0c0"/><rect x="379" y="688" width="1" height="10" fill="#c0c0c0"/><rect x="383" y="688" width="1" height="9" fill="#c0c0c0"/><rect x="387" y="688" width="1" height="8" fill="#c0c0c0"/><rect x="391" y="688" width="1" height="7" fill="#c0c0c0"/><rect x="395" y="688" width="1" height="6" fill="#c0c0c0"/><rect x="399" y="688" width="1" height="6" fill="#c0c0c0"/><rect x="403" y="688" width="1" height="5" fill="#c0c0c0"/><rect x="407" y="688" width="1" height="5" fill="#c0c0c0"/><rect x="411" y="688" width="1" height="4" fill="#c0c0c0"/><rect x="415" y="688" width="1" height="4" fill="#c0c0c0"/><rect x="419" y="688" width="1" height="3" fill="#c0c0c0"/><rect x="423" y="688" width="1" height="3" fill="#c0c0c0"/><rect x="427" y="688" width="1" height="3" fill="#c0c0c0"/><rect x="431" y="688" width="1" height="2" fill="#c0c0c0"/><rect x="443" y="687" width="1" height="2" fill="#c0c0c0"/><rect x="447" y="686" width="1" height="3" fill="#c0c0c0"/><rect x="451" y="685" width="1" height="4" fill="#c0c0c0"/><rect x="455" y="684" width="1" height="5" fill="#c0c0c0"/><rect x="459" y="683" width="1" height="6" fill="#c0c0c0"/><rect x="463" y="682" width="1" height="7" fill="#c0c0c0"/><rect x="467" y="682" width="1" height="7" fill="#c0c0c0"/><rect x="471" y="681" width="1" height="8" fill="#c0c0c0"/><rect x="475" y="680" width="1" height="9" fill="#c0c0c0"/><rect x="479" y="679" width="1" height="10" fill="#c0c0c0"/><rect x="483" y="679" width="1" height="10" fill="#c0c0c0"/><rect x="487" y="678" width="1" height="11" fill="#c0c0c0"/><rect x="491" y="678" width="1" height="11" fill="#c0c0c0"/><rect x="495" y="678" width="1" height="11" fill="#c0c0c0"/><rect x="499" y="678" width="1" height="11" fill="#c0c0c0"/><rect x="503" y="679" width="1" height="10" fill="#c0c0c0"/><rect x="507" y="680" width="1" height="9" fill="#c0c0c0"/><rect x="511" y="681" width="1" height="8" fill="#c0c0c0"/><rect x="515" y="681" width="1" height="8" fill="#c0c0c0"/><rect x="519" y="682" width="1" height="7" fill="#c0c0c0"/><rect x="523" y="683" width="1" height="6" fill="#c0c0c0"/><rect x="527" y="683" width="1" height="6" fill="#c0c0c0"/><rect x="531" y="684" width="1" height="5" fill="#c0c0c0"/><rect x="535" y="685" width="1" height="4" fill="#c0c0c0"/><rect x="539" y="685" width="1" height="4" fill="#c0c0c0"/><rect x="543" y="685" width="1" height="4" fill="#c0c0c0"/><rect x="547" y="685" width="1" height="4" fill="#c0c0c0"/><rect x="551" y="684" width="1" height="5" fill="#c0c0c0"/><rect x="555" y="683" width="1" height="6" fill="#c0c0c0"/><rect x="559" y="681" width="1" height="8" fill="#c0c0c0"/><rect x="563" y="680" width="1" height="9" fill="#c0c0c0"/><rect x="567" y="680" width="1" height="9" fill="#c0c0c0"/><rect x="571" y="680" width="1" height="9" fill="#c0c0c0"/><rect x="575" y="680" width="1" height="9" fill="#c0c0c0"/><rect x="579" y="680" width="1" height="9" fill="#c0c0c0"/><rect x="583" y="679" width="1" height="10" fill="#c0c0c0"/><rect x="587" y="679" width="1" height="10" fill="#c0c0c0"/><rect x="591" y="678" width="1" height="11" fill="#c0c0c0"/><rect x="595" y="673" width="1" height="16" fill="#c0c0c0"/><rect x="599" y="670" width="1" height="19" fill="#c0c0c0"/><rect x="603" y="666" width="1" height="23" fill="#c0c0c0"/><rect x="607" y="662" width="1" height="27" fill="#c0c0c0"/><rect x="611" y="659" width="1" height="30" fill="#c0c0c0"/><rect x="615" y="657" width="1" height="32" fill="#c0c0c0"/><rect x="619" y="653" width="1" height="36" fill="#c0c0c0"/><rect x="623" y="645" width="1" height="44" fill="#c0c0c0"/><rect x="627" y="640" width="1" height="49" fill="#c0c0c0"/><rect x="631" y="639" width="1" height="50" fill="#c0c0c0"/><rect x="635" y="637" width="1" height="52" fill="#c0c0c0"/><rect x="639" y="635" width="1" height="54" fill="#c0c0c0"/><rect x="643" y="634" width="1" height="55" fill="#c0c0c0"/><rect x="647" y="637" width="1" height="52" fill="#c0c0c0"/><rect x="651" y="643" width="1" height="46" fill="#c0c0c0"/><rect x="655" y="648" width="1" height="41" fill="#c0c0c0"/><rect x="659" y="655" width="1" height="34" fill="#c0c0c0"/><rect x="663" y="657" width="1" height="32" fill="#c0c0c0"/><rect x="667" y="660" width="1" height="29" fill="#c0c0c0"/><rect x="671" y="661" width="1" height="28" fill="#c0c0c0"/><rect x="675" y="663" width="1" height="26" fill="#c0c0c0"/><rect x="679" y="665" width="1" height="24" fill="#c0c0c0"/><rect x="683" y="667" width="1" height="22" fill="#c0c0c0"/><rect x="687" y="669" width="1" height="20" fill="#c0c0c0"/><rect x="691" y="673" width="1" height="16" fill="#c0c0c0"/><rect x="695" y="675" width="1" height="14" fill="#c0c0c0"/><rect x="699" y="678" width="1" height="11" fill="#c0c0c0"/><rect x="703" y="680" width="1" height="9" fill="#c0c0c0"/><rect x="707" y="683" width="1" height="6" fill="#c0c0c0"/><rect x="711" y="684" width="1" height="5" fill="#c0c0c0"/><rect x="715" y="686" width="1" height="3" fill="#c0c0c0"/><rect x="719" y="685" width="1" height="4" fill="#c0c0c0"/><rect x="723" y="684" width="1" height="5" fill="#c0c0c0"/><rect x="727" y="684" width="1" height="5" fill="#c0c0c0"/><rect x="731" y="685" width="1" height="4" fill="#c0c0c0"/><rect x="735" y="685" width="1" height="4" fill="#c0c0c0"/><rect x="739" y="683" width="1" height="6" fill="#c0c0c0"/><rect x="743" y="682" width="1" height="7" fill="#c0c0c0"/><rect x="747" y="684" width="1" height="5" fill="#c0c0c0"/><rect x="751" y="683" width="1" height="6" fill="#c0c0c0"/><rect x="755" y="683" width="1" height="6" fill="#c0c0c0"/><rect x="759" y="684" width="1" height="5" fill="#c0c0c0"/><rect x="763" y="686" width="1" height="3" fill="#c0c0c0"/><rect x="771" y="688" width="1" height="1" fill="#c0c0c0"/><rect x="783" y="687" width="1" height="2" fill="#c0c0c0"/><rect x="787" y="687" width="1" height="2" fill="#c0c0c0"/><rect x="791" y="686" width="1" height="3" fill="#c0c0c0"/><rect x="795" y="687" width="1" height="2" fill="#c0c0c0"/><rect x="799" y="688" width="1" height="1" fill="#c0c0c0"/><rect x="803" y="688" width="1" height="2" fill="#c0c0c0"/><rect x="807" y="688" width="1" height="2" fill="#c0c0c0"/><rect x="811" y="688" width="1" height="2" fill="#c0c0c0"/><rect x="815" y="688" width="1" height="1" fill="#c0c0c0"/><rect x="823" y="687" width="1" height="2" fill="#c0c0c0"/><rect x="827" y="686" width="1" height="3" fill="#c0c0c0"/><rect x="835" y="688" width="1" height="2" fill="#c0c0c0"/><rect x="839" y="688" width="1" height="3" fill="#c0c0c0"/><rect x="843" y="688" width="1" height="4" fill="#c0c0c0"/><rect x="847" y="688" width="1" height="3" fill="#c0c0c0"/><rect x="851" y="688" width="1" height="3" fill="#c0c0c0"/><rect x="855" y="688" width="1" height="3" fill="#c0c0c0"/><rect x="859" y="688" width="1" height="5" fill="#c0c0c0"/><rect x="863" y="688" width="1" height="7" fill="#c0c0c0"/><rect x="867" y="688" width="1" height="9" fill="#c0c0c0"/><rect x="871" y="688" width="1" height="10" fill="#c0c0c0"/><rect x="875" y="688" width="1" height="11" fill="#c0c0c0"/><rect x="879" y="688" width="1" height="14" fill="#c0c0c0"/><rect x="883" y="688" width="1" height="17" fill="#c0c0c0"/><rect x="887" y="688" width="1" height="20" fill="#c0c0c0"/><rect x="891" y="688" width="1" height="22" fill="#c0c0c0"/><rect x="895" y="688" width="1" height="24" fill="#c0c0c0"/><rect x="899" y="688" width="1" height="25" fill="#c0c0c0"/><rect x="903" y="688" width="1" height="27" fill="#c0c0c0"/><rect x="907" y="688" width="1" height="27" fill="#c0c0c0"/><rect x="911" y="688" width="1" height="28" fill="#c0c0c0"/><rect x="915" y="688" width="1" height="25" fill="#c0c0c0"/><rect x="919" y="688" width="1" height="23" fill="#c0c0c0"/><rect x="923" y="688" width="1" height="20" fill="#c0c0c0"/><rect x="927" y="688" width="1" height="18" fill="#c0c0c0"/><rect x="931" y="688" width="1" height="17" fill="#c0c0c0"/><rect x="935" y="688" width="1" height="15" fill="#c0c0c0"/><rect x="939" y="688" width="1" height="14" fill="#c0c0c0"/><rect x="943" y="688" width="1" height="12" fill="#c0c0c0"/><rect x="947" y="688" width="1" height="11" fill="#c0c0c0"/><rect x="951" y="688" width="1" height="11" fill="#c0c0c0"/><rect x="955" y="688" width="1" height="11" fill="#c0c0c0"/><rect x="959" y="688" width="1" height="10" fill="#c0c0c0"/><rect x="963" y="688" width="1" height="8" fill="#c0c0c0"/><rect x="967" y="688" width="1" height="5" fill="#c0c0c0"/><rect x="971" y="688" width="1" height="4" fill="#c0c0c0"/><rect x="975" y="688" width="1" height="3" fill="#c0c0c0"/><rect x="979" y="688" width="1" height="3" fill="#c0c0c0"/><rect x="983" y="688" width="1" height="3" fill="#c0c0c0"/><rect x="987" y="688" width="1" height="3" fill="#c0c0c0"/><rect x="991" y="688" width="1" height="4" fill="#c0c0c0"/><rect x="995" y="688" width="1" height="4" fill="#c0c0c0"/><rect x="999" y="688" width="1" height="4" fill="#c0c0c0"/><rect x="1003" y="688" width="1" height="4" fill="#c0c0c0"/><rect x="1007" y="688" width="1" height="4" fill="#c0c0c0"/><rect x="1011" y="688" width="1" height="4" fill="#c0c0c0"/><rect x="1015" y="688" width="1" height="4" fill="#c0c0c0"/><rect x="1019" y="688" width="1" height="3" fill="#c0c0c0"/><rect x="1023" y="688" width="1" height="3" fill="#c0c0c0"/><rect x="1027" y="688" width="1" height="3" fill="#c0c0c0"/><rect x="1031" y="688" width="1" height="3" fill="#c0c0c0"/><rect x="1035" y="688" width="1" height="4" fill="#c0c0c0"/><rect x="1039" y="688" width="1" height="3" fill="#c0c0c0"/><rect x="1043" y="688" width="1" height="3" fill="#c0c0c0"/><rect x="1047" y="688" width="1" height="3" fill="#c0c0c0"/><rect x="1051" y="688" width="1" height="5" fill="#c0c0c0"/><rect x="1055" y="688" width="1" height="6" fill="#c0c0c0"/><rect x="1059" y="688" width="1" height="8" fill="#c0c0c0"/><rect x="1063" y="688" width="1" height="8" fill="#c0c0c0"/><rect x="1067" y="688" width="1" height="9" fill="#c0c0c0"/><rect x="1071" y="688" width="1" height="10" fill="#c0c0c0"/><rect x="1075" y="688" width="1" height="11" fill="#c0c0c0"/><rect x="1079" y="688" width="1" height="11" fill="#c0c0c0"/><rect x="1083" y="688" width="1" height="10" fill="#c0c0c0"/><rect x="1087" y="688" width="1" height="10" fill="#c0c0c0"/><rect x="1091" y="688" width="1" height="10" fill="#c0c0c0"/><rect x="1095" y="688" width="1" height="9" fill="#c0c0c0"/><rect x="1099" y="688" width="1" height="9" fill="#c0c0c0"/><rect x="1103" y="688" width="1" height="11" fill="#c0c0c0"/><rect x="1107" y="688" width="1" height="11" fill="#c0c0c0"/><rect x="1111" y="688" width="1" height="10" fill="#c0c0c0"/><rect x="1115" y="688" width="1" height="9" fill="#c0c0c0"/><rect x="1119" y="688" width="1" height="9" fill="#c0c0c0"/><rect x="1123" y="688" width="1" height="9" fill="#c0c0c0"/><rect x="1127" y="688" width="1" height="10" fill="#c0c0c0"/><rect x="1131" y="688" width="1" height="11" fill="#c0c0c0"/><rect x="1135" y="688" width="1" height="11" fill="#c0c0c0"/><rect x="1139" y="688" width="1" height="11" fill="#c0c0c0"/><rect x="1143" y="688" width="1" height="12" fill="#c0c0c0"/><rect x="1147" y="688" width="1" height="13" fill="#c0c0c0"/><rect x="1151" y="688" width="1" height="13" fill="#c0c0c0"/><rect x="1155" y="688" width="1" height="13" fill="#c0c0c0"/><rect x="1159" y="688" width="1" height="13" fill="#c0c0c0"/><rect x="1163" y="688" width="1" height="13" fill="#c0c0c0"/><rect x="1167" y="688" width="1" height="12" fill="#c0c0c0"/><rect x="1171" y="688" width="1" height="11" fill="#c0c0c0"/><rect x="1175" y="688" width="1" height="11" fill="#c0c0c0"/><rect x="1179" y="688" width="1" height="12" fill="#c0c0c0"/><rect x="1183" y="688" width="1" height="12" fill="#c0c0c0"/><rect x="1187" y="688" width="1" height="13" fill="#c0c0c0"/><rect x="1191" y="688" width="1" height="14" fill="#c0c0c0"/><rect x="1195" y="688" width="1" height="14" fill="#c0c0c0"/><rect x="1199" y="688" width="1" height="14" fill="#c0c0c0"/><rect x="1203" y="688" width="1" height="13" fill="#c0c0c0"/><rect x="1207" y="688" width="1" height="12" fill="#c0c0c0"/><rect x="1211" y="688" width="1" height="12" fill="#c0c0c0"/><rect x="1215" y="688" width="1" height="12" fill="#c0c0c0"/><rect x="1219" y="688" width="1" height="10" fill="#c0c0c0"/><rect x="1223" y="688" width="1" height="8" fill="#c0c0c0"/><rect x="1227" y="688" width="1" height="7" fill="#c0c0c0"/><rect x="1231" y="688" width="1" height="6" fill="#c0c0c0"/><rect x="1235" y="688" width="1" height="5" fill="#c0c0c0"/><rect x="1239" y="688" width="1" height="4" fill="#c0c0c0"/><rect x="1243" y="688" width="1" height="3" fill="#c0c0c0"/><rect x="1247" y="688" width="1" height="3" fill="#c0c0c0"/><rect x="1251" y="688" width="1" height="2" fill="#c0c0c0"/><rect x="1255" y="688" width="1" height="2" fill="#c0c0c0"/><rect x="1259" y="688" width="1" height="1" fill="#c0c0c0"/><rect x="1263" y="687" width="1" height="2" fill="#c0c0c0"/><rect x="1267" y="686" width="1" height="3" fill="#c0c0c0"/></g><g clip-path="url(#cd)"><polyline points="3.5,692.2 7.5,691.8 11.5,691.4 15.5,690.9 19.5,690.4 23.5,689.9 27.5,689.5 31.5,689.2 35.5,689.0 39.5,688.9 43.5,688.8 47.5,688.7 51.5,688.6 55.5,688.3 59.5,688.0 63.5,687.8 67.5,687.5 71.5,687.1 75.5,686.8 79.5,686.6 83.5,686.7 87.5,687.0 91.5,687.4 95.5,687.9 99.5,688.6 103.5,689.5 107.5,690.4 111.5,691.4 115.5,692.3 119.5,693.1 123.5,694.0 127.5,694.8 131.5,695.6 135.5,696.2 139.5,696.7 143.5,696.9 147.5,696.9 151.5,696.7 155.5,696.3 159.5,695.8 163.5,695.2 167.5,694.4 171.5,693.6 175.5,692.7 179.5,691.9 183.5,691.1 187.5,690.3 191.5,689.5 195.5,688.7 199.5,688.0 203.5,687.4 207.5,686.9 211.5,686.4 215.5,686.0 219.5,685.6 223.5,685.2 227.5,684.9 231.5,684.6 235.5,684.3 239.5,684.0 243.5,683.7 247.5,683.5 251.5,683.4 255.5,683.3 259.5,683.3 263.5,683.5 267.5,683.9 271.5,684.3 275.5,684.7 279.5,685.1 283.5,685.6 287.5,686.1 291.5,686.7 295.5,687.3 299.5,687.9 303.5,688.4 307.5,688.9 311.5,689.6 315.5,690.3 319.5,690.8 323.5,691.4 327.5,691.7 331.5,692.1 335.5,692.3 339.5,692.5 343.5,692.8 347.5,693.0 351.5,693.2 355.5,693.6 359.5,694.2 363.5,694.9 367.5,695.6 371.5,696.3 375.5,697.1 379.5,697.7 383.5,698.1 387.5,698.2 391.5,698.1 395.5,697.8 399.5,697.3 403.5,696.7 407.5,696.0 411.5,695.3 415.5,694.6 419.5,693.9 423.5,693.4 427.5,692.9 431.5,692.4 435.5,691.8 439.5,691.2 443.5,690.5 447.5,689.8 451.5,689.0 455.5,688.2 459.5,687.2 463.5,686.3 467.5,685.4 471.5,684.5 475.5,683.7 479.5,682.8 483.5,682.0 487.5,681.3 491.5,680.7 495.5,680.1 499.5,679.7 503.5,679.4 507.5,679.3 511.5,679.4 515.5,679.6 519.5,680.0 523.5,680.5 527.5,681.0 531.5,681.7 535.5,682.4 539.5,683.1 543.5,683.6 547.5,684.1 551.5,684.4 555.5,684.6 559.5,684.4 563.5,684.1 567.5,683.7 571.5,683.3 575.5,682.7 579.5,682.1 583.5,681.5 587.5,680.9 591.5,680.3 595.5,679.4 599.5,678.2 603.5,676.6 607.5,674.5 611.5,672.2 615.5,669.7 619.5,666.8 623.5,663.0 627.5,658.9 631.5,655.1 635.5,651.4 639.5,647.9 643.5,644.9 647.5,642.4 651.5,640.9 655.5,640.4 659.5,641.5 663.5,643.3 667.5,645.6 671.5,648.3 675.5,651.4 679.5,654.9 683.5,658.2 687.5,661.1 691.5,663.8 695.5,666.1 699.5,668.4 703.5,670.7 707.5,673.1 711.5,675.5 715.5,677.8 719.5,679.8 723.5,681.5 727.5,682.8 731.5,683.8 735.5,684.6 739.5,684.9 743.5,684.8 747.5,684.7 751.5,684.4 755.5,684.2 759.5,684.2 763.5,684.4 767.5,684.7 771.5,685.2 775.5,685.8 779.5,686.4 783.5,686.8 787.5,687.2 791.5,687.5 795.5,687.8 799.5,688.2 803.5,688.5 807.5,688.6 811.5,688.8 815.5,688.9 819.5,689.0 823.5,689.0 827.5,689.0 831.5,689.1 835.5,689.1 839.5,689.2 843.5,689.4 847.5,689.5 851.5,689.8 855.5,690.1 859.5,690.8 863.5,691.8 867.5,692.8 871.5,693.7 875.5,694.5 879.5,695.7 883.5,697.2 887.5,699.2 891.5,701.3 895.5,703.4 899.5,705.4 903.5,707.4 907.5,709.3 911.5,711.2 915.5,712.5 919.5,713.1 923.5,713.1 927.5,712.6 931.5,711.8 935.5,710.7 939.5,709.2 943.5,707.6 947.5,705.8 951.5,704.1 955.5,702.8 959.5,701.7 963.5,700.5 967.5,699.3 971.5,698.1 975.5,696.8 979.5,695.8 983.5,694.9 987.5,694.1 991.5,693.3 995.5,692.6 999.5,692.3 1003.5,692.1 1007.5,692.1 1011.5,692.3 1015.5,692.4 1019.5,692.4 1023.5,692.4 1027.5,692.3 1031.5,692.2 1035.5,692.1 1039.5,692.1 1043.5,691.9 1047.5,691.8 1051.5,691.9 1055.5,692.3 1059.5,692.8 1063.5,693.4 1067.5,694.0 1071.5,694.7 1075.5,695.5 1079.5,696.4 1083.5,697.1 1087.5,697.7 1091.5,698.1 1095.5,698.2 1099.5,698.3 1103.5,698.5 1107.5,698.7 1111.5,698.6 1115.5,698.5 1119.5,698.4 1123.5,698.3 1127.5,698.4 1131.5,698.6 1135.5,698.8 1139.5,698.9 1143.5,699.0 1147.5,699.2 1151.5,699.6 1155.5,700.1 1159.5,700.5 1163.5,700.7 1167.5,700.8 1171.5,700.8 1175.5,700.8 1179.5,700.8 1183.5,700.8 1187.5,700.7 1191.5,700.8 1195.5,701.0 1199.5,701.1 1203.5,701.3 1207.5,701.4 1211.5,701.5 1215.5,701.4 1219.5,701.1 1223.5,700.6 1227.5,699.9 1231.5,699.0 1235.5,698.0 1239.5,697.0 1243.5,696.0 1247.5,694.9 1251.5,693.8 1255.5,692.9 1259.5,692.1 1263.5,691.2 1267.5,690.3" fill="none" stroke="#ff0000" stroke-width="1" shape-rendering="crispEdges" stroke-dasharray="3,3"/></g><text x="7.5" y="641" font-family="Liberation Sans, sans-serif" font-size="10.3" fill="#000" stroke="#000" stroke-width="0.15" text-rendering="geometricPrecision" textLength="150" lengthAdjust="spacingAndGlyphs" >MACD(12,26,9) 0.001270 -0.001022</text><text x="1599" y="639" font-family="Liberation Sans, sans-serif" font-size="10.3" fill="#000" stroke="#000" stroke-width="0.15" text-rendering="geometricPrecision" textLength="38" lengthAdjust="spacingAndGlyphs" >0.032972</text><text x="1599" y="692" font-family="Liberation Sans, sans-serif" font-size="10.3" fill="#000" stroke="#000" stroke-width="0.15" text-rendering="geometricPrecision" textLength="18.5" lengthAdjust="spacingAndGlyphs" >0.00</text><text x="1598" y="717" font-family="Liberation Sans, sans-serif" font-size="10.3" fill="#000" stroke="#000" stroke-width="0.15" text-rendering="geometricPrecision" textLength="38" lengthAdjust="spacingAndGlyphs" >-0.018154</text><rect x="1596" y="630" width="2" height="1" fill="#000"/><rect x="1596" y="688" width="2" height="1" fill="#000"/><rect x="1596" y="719" width="2" height="1" fill="#000"/><rect x="3" y="721" width="1" height="3" fill="#000"/><text x="2.2" y="733" font-family="Liberation Sans, sans-serif" font-size="10.3" fill="#000" stroke="#000" stroke-width="0.15" text-rendering="geometricPrecision" textLength="51.7" lengthAdjust="spacingAndGlyphs" >19 Sep 2019</text><rect x="67" y="721" width="1" height="3" fill="#000"/><text x="66.2" y="733" font-family="Liberation Sans, sans-serif" font-size="10.3" fill="#000" stroke="#000" stroke-width="0.15" text-rendering="geometricPrecision" textLength="44.6" lengthAdjust="spacingAndGlyphs" >8 Oct 2019</text><rect x="131" y="721" width="1" height="3" fill="#000"/><text x="130.2" y="733" font-family="Liberation Sans, sans-serif" font-size="10.3" fill="#000" stroke="#000" stroke-width="0.15" text-rendering="geometricPrecision" textLength="49.7" lengthAdjust="spacingAndGlyphs" >26 Oct 2019</text><rect x="195" y="721" width="1" height="3" fill="#000"/><text x="194.2" y="733" font-family="Liberation Sans, sans-serif" font-size="10.3" fill="#000" stroke="#000" stroke-width="0.15" text-rendering="geometricPrecision" textLength="51.7" lengthAdjust="spacingAndGlyphs" >14 Nov 2019</text><rect x="259" y="721" width="1" height="3" fill="#000"/><text x="258.2" y="733" font-family="Liberation Sans, sans-serif" font-size="10.3" fill="#000" stroke="#000" stroke-width="0.15" text-rendering="geometricPrecision" textLength="46.6" lengthAdjust="spacingAndGlyphs" >3 Dec 2019</text><rect x="323" y="721" width="1" height="3" fill="#000"/><text x="322.2" y="733" font-family="Liberation Sans, sans-serif" font-size="10.3" fill="#000" stroke="#000" stroke-width="0.15" text-rendering="geometricPrecision" textLength="51.7" lengthAdjust="spacingAndGlyphs" >21 Dec 2019</text><rect x="387" y="721" width="1" height="3" fill="#000"/><text x="386.2" y="733" font-family="Liberation Sans, sans-serif" font-size="10.3" fill="#000" stroke="#000" stroke-width="0.15" text-rendering="geometricPrecision" textLength="45.1" lengthAdjust="spacingAndGlyphs" >9 Jan 2020</text><rect x="451" y="721" width="1" height="3" fill="#000"/><text x="450.2" y="733" font-family="Liberation Sans, sans-serif" font-size="10.3" fill="#000" stroke="#000" stroke-width="0.15" text-rendering="geometricPrecision" textLength="50.2" lengthAdjust="spacingAndGlyphs" >28 Jan 2020</text><rect x="515" y="721" width="1" height="3" fill="#000"/><text x="514.2" y="733" font-family="Liberation Sans, sans-serif" font-size="10.3" fill="#000" stroke="#000" stroke-width="0.15" text-rendering="geometricPrecision" textLength="51.2" lengthAdjust="spacingAndGlyphs" >15 Feb 2020</text><rect x="579" y="721" width="1" height="3" fill="#000"/><text x="578.2" y="733" font-family="Liberation Sans, sans-serif" font-size="10.3" fill="#000" stroke="#000" stroke-width="0.15" text-rendering="geometricPrecision" textLength="46.1" lengthAdjust="spacingAndGlyphs" >5 Mar 2020</text><rect x="643" y="721" width="1" height="3" fill="#000"/><text x="642.2" y="733" font-family="Liberation Sans, sans-serif" font-size="10.3" fill="#000" stroke="#000" stroke-width="0.15" text-rendering="geometricPrecision" textLength="51.2" lengthAdjust="spacingAndGlyphs" >24 Mar 2020</text><rect x="707" y="721" width="1" height="3" fill="#000"/><text x="706.2" y="733" font-family="Liberation Sans, sans-serif" font-size="10.3" fill="#000" stroke="#000" stroke-width="0.15" text-rendering="geometricPrecision" textLength="48.5" lengthAdjust="spacingAndGlyphs" >11 Apr 2020</text><rect x="771" y="721" width="1" height="3" fill="#000"/><text x="770.2" y="733" font-family="Liberation Sans, sans-serif" font-size="10.3" fill="#000" stroke="#000" stroke-width="0.15" text-rendering="geometricPrecision" textLength="49.2" lengthAdjust="spacingAndGlyphs" >30 Apr 2020</text><rect x="835" y="721" width="1" height="3" fill="#000"/><text x="834.2" y="733" font-family="Liberation Sans, sans-serif" font-size="10.3" fill="#000" stroke="#000" stroke-width="0.15" text-rendering="geometricPrecision" textLength="52.7" lengthAdjust="spacingAndGlyphs" >19 May 2020</text><rect x="899" y="721" width="1" height="3" fill="#000"/><text x="898.2" y="733" font-family="Liberation Sans, sans-serif" font-size="10.3" fill="#000" stroke="#000" stroke-width="0.15" text-rendering="geometricPrecision" textLength="45.1" lengthAdjust="spacingAndGlyphs" >6 Jun 2020</text><rect x="963" y="721" width="1" height="3" fill="#000"/><text x="962.2" y="733" font-family="Liberation Sans, sans-serif" font-size="10.3" fill="#000" stroke="#000" stroke-width="0.15" text-rendering="geometricPrecision" textLength="50.2" lengthAdjust="spacingAndGlyphs" >25 Jun 2020</text><rect x="1027" y="721" width="1" height="3" fill="#000"/><text x="1026.2" y="733" font-family="Liberation Sans, sans-serif" font-size="10.3" fill="#000" stroke="#000" stroke-width="0.15" text-rendering="geometricPrecision" textLength="47.2" lengthAdjust="spacingAndGlyphs" >14 Jul 2020</text><rect x="1091" y="721" width="1" height="3" fill="#000"/><text x="1090.2" y="733" font-family="Liberation Sans, sans-serif" font-size="10.3" fill="#000" stroke="#000" stroke-width="0.15" text-rendering="geometricPrecision" textLength="46.2" lengthAdjust="spacingAndGlyphs" >1 Aug 2020</text><rect x="1155" y="721" width="1" height="3" fill="#000"/><text x="1154.2" y="733" font-family="Liberation Sans, sans-serif" font-size="10.3" fill="#000" stroke="#000" stroke-width="0.15" text-rendering="geometricPrecision" textLength="51.2" lengthAdjust="spacingAndGlyphs" >20 Aug 2020</text><rect x="1219" y="721" width="1" height="3" fill="#000"/><text x="1218.2" y="733" font-family="Liberation Sans, sans-serif" font-size="10.3" fill="#000" stroke="#000" stroke-width="0.15" text-rendering="geometricPrecision" textLength="46.7" lengthAdjust="spacingAndGlyphs" >8 Sep 2020</text><rect x="0" y="741" width="1637" height="1" fill="#e3e3e3"/><rect x="0" y="743" width="1637" height="1" fill="#000"/><rect x="0" y="744" width="1637" height="19" fill="#f0f0f0"/><rect x="0" y="763" width="1637" height="2" fill="#fafafa"/><rect x="312" y="743" width="104" height="19" fill="#fff"/><path d="M312.5 743 V761.5 H415.5 V743" fill="none" stroke="#000" stroke-width="1"/><text x="16.9" y="758" font-family="Liberation Sans, sans-serif" font-size="12.5" fill="#6a6a6a" textLength="78.80000000000001" lengthAdjust="spacingAndGlyphs">EURUSD,Daily</text><text x="118.2" y="758" font-family="Liberation Sans, sans-serif" font-size="12.5" fill="#6a6a6a" textLength="78.8" lengthAdjust="spacingAndGlyphs">USDCHF,Daily</text><text x="219" y="758" font-family="Liberation Sans, sans-serif" font-size="12.5" fill="#6a6a6a" textLength="82" lengthAdjust="spacingAndGlyphs">AUDUSD,Daily</text><text x="323.5" y="758" font-family="Liberation Sans, sans-serif" font-size="12.5" fill="#000" textLength="80.5" lengthAdjust="spacingAndGlyphs">USDCAD,Daily</text><text x="426.4" y="758" font-family="Liberation Sans, sans-serif" font-size="12.5" fill="#6a6a6a" textLength="82.60000000000002" lengthAdjust="spacingAndGlyphs">USDCNH,Daily</text><text x="532" y="758" font-family="Liberation Sans, sans-serif" font-size="12.5" fill="#6a6a6a" textLength="79.60000000000002" lengthAdjust="spacingAndGlyphs">EURUSD,Daily</text><text x="636" y="758" font-family="Liberation Sans, sans-serif" font-size="12.5" fill="#6a6a6a" textLength="68" lengthAdjust="spacingAndGlyphs">GBPUSD,H4</text><text x="727" y="758" font-family="Liberation Sans, sans-serif" font-size="12.5" fill="#6a6a6a" textLength="69.39999999999998" lengthAdjust="spacingAndGlyphs">XAUUSD,H1</text><text x="819.2" y="758" font-family="Liberation Sans, sans-serif" font-size="12.5" fill="#6a6a6a" textLength="49.59999999999991" lengthAdjust="spacingAndGlyphs">HK50,H1</text><text x="891" y="758" font-family="Liberation Sans, sans-serif" font-size="12.5" fill="#6a6a6a" textLength="56.5" lengthAdjust="spacingAndGlyphs">UK100,H1</text><text x="971.4" y="758" font-family="Liberation Sans, sans-serif" font-size="12.5" fill="#6a6a6a" textLength="56.39999999999998" lengthAdjust="spacingAndGlyphs">UK100,H1</text><text x="1051.4" y="758" font-family="Liberation Sans, sans-serif" font-size="12.5" fill="#6a6a6a" textLength="55.899999999999864" lengthAdjust="spacingAndGlyphs">GER30,H1</text><text x="1130.4" y="758" font-family="Liberation Sans, sans-serif" font-size="12.5" fill="#6a6a6a" textLength="53.59999999999991" lengthAdjust="spacingAndGlyphs">FRA40,H1</text><text x="1205.9" y="758" font-family="Liberation Sans, sans-serif" font-size="12.5" fill="#6a6a6a" textLength="51.0" lengthAdjust="spacingAndGlyphs">USOil,H4</text><text x="1278.2" y="758" font-family="Liberation Sans, sans-serif" font-size="12.5" fill="#6a6a6a" textLength="62.5" lengthAdjust="spacingAndGlyphs">USDJPY,H1</text><text x="1362.3" y="758" font-family="Liberation Sans, sans-serif" font-size="12.5" fill="#6a6a6a" textLength="58.700000000000045" lengthAdjust="spacingAndGlyphs">DJ30,Daily</text><text x="1442.1" y="758" font-family="Liberation Sans, sans-serif" font-size="12.5" fill="#6a6a6a" textLength="78.20000000000005" lengthAdjust="spacingAndGlyphs">CHINA300,H1</text><text x="1542.2" y="758" font-family="Liberation Sans, sans-serif" font-size="12.5" fill="#6a6a6a" textLength="50.200000000000045" lengthAdjust="spacingAndGlyphs">USOil,H1</text><rect x="108" y="746" width="1" height="14" fill="#5a5a5a"/><rect x="208" y="746" width="1" height="14" fill="#5a5a5a"/><rect x="520" y="746" width="1" height="14" fill="#5a5a5a"/><rect x="624" y="746" width="1" height="14" fill="#5a5a5a"/><rect x="716" y="746" width="1" height="14" fill="#5a5a5a"/><rect x="808" y="746" width="1" height="14" fill="#5a5a5a"/><rect x="880" y="746" width="1" height="14" fill="#5a5a5a"/><rect x="960" y="746" width="1" height="14" fill="#5a5a5a"/><rect x="1040" y="746" width="1" height="14" fill="#5a5a5a"/><rect x="1120" y="746" width="1" height="14" fill="#5a5a5a"/><rect x="1196" y="746" width="1" height="14" fill="#5a5a5a"/><rect x="1268" y="746" width="1" height="14" fill="#5a5a5a"/><rect x="1352" y="746" width="1" height="14" fill="#5a5a5a"/><rect x="1432" y="746" width="1" height="14" fill="#5a5a5a"/><rect x="1532" y="746" width="1" height="14" fill="#5a5a5a"/><rect x="1604" y="746" width="1" height="14" fill="#5a5a5a"/><path d="M1610.5 752 L1614.3 748.5 L1614.3 755.5 Z" fill="#9a9a9a"/><path d="M1633.5 752 L1629.7 748.5 L1629.7 755.5 Z" fill="#000"/></svg></body></html>
